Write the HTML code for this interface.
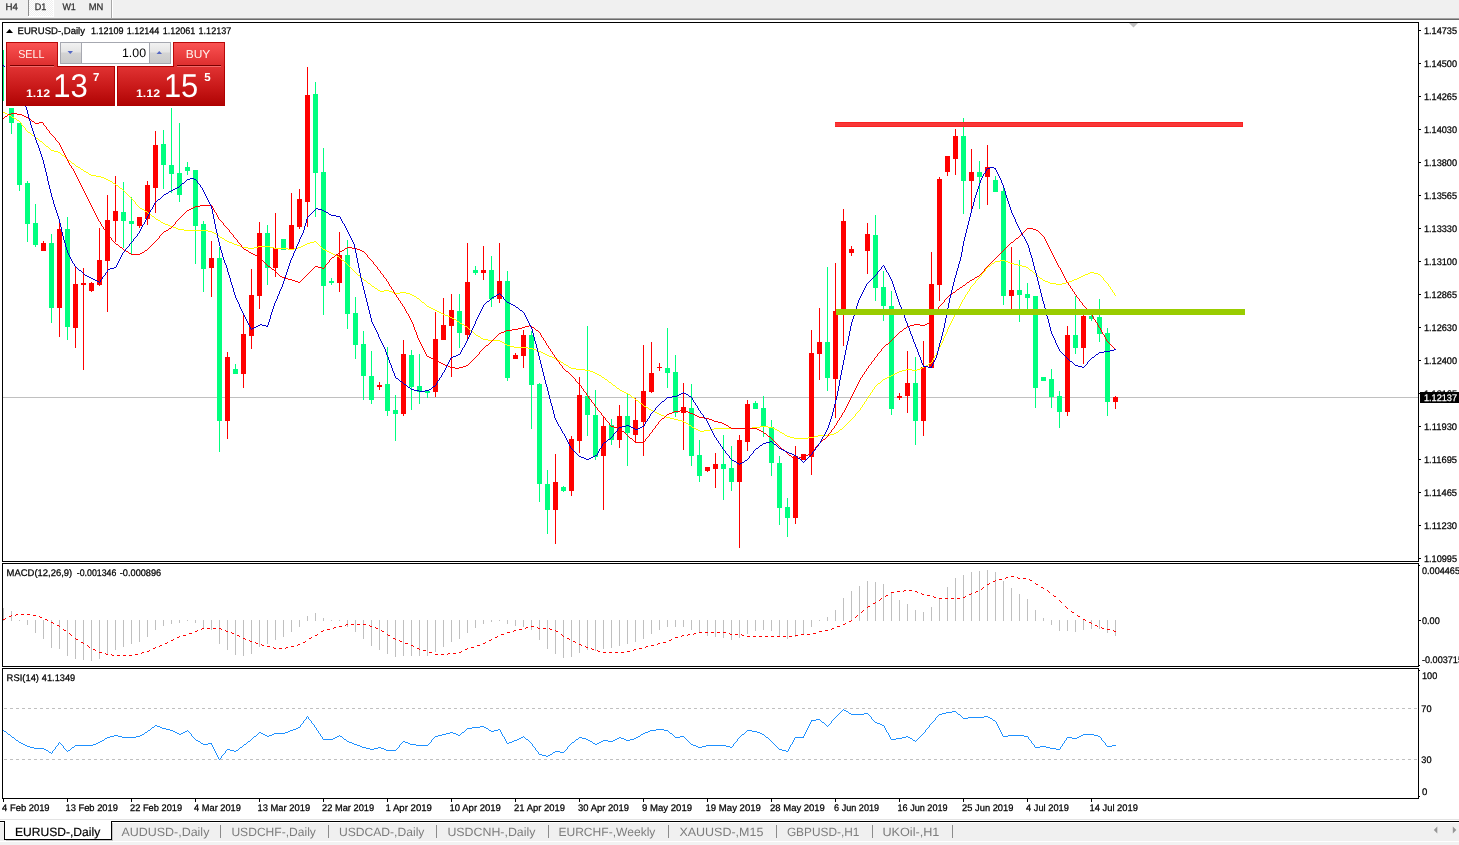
<!DOCTYPE html>
<html lang="en"><head><meta charset="utf-8"><title>EURUSD-,Daily</title>
<style>html,body{margin:0;padding:0;background:#fff}body{width:1459px;height:845px;overflow:hidden;font-family:"Liberation Sans",sans-serif}svg{display:block}</style>
</head><body>
<svg width="1459" height="845" viewBox="0 0 1459 845" font-family="Liberation Sans, sans-serif" style="text-rendering:geometricPrecision">
<defs>
<linearGradient id="gsell" x1="0" y1="0" x2="0" y2="1"><stop offset="0" stop-color="#fa5252"/><stop offset="1" stop-color="#dc2c2c"/></linearGradient>
<linearGradient id="gprice" x1="0" y1="0" x2="0" y2="1"><stop offset="0" stop-color="#e03232"/><stop offset="0.55" stop-color="#c81818"/><stop offset="1" stop-color="#b00404"/></linearGradient>
<linearGradient id="gbtn" x1="0" y1="0" x2="0" y2="1"><stop offset="0" stop-color="#f2f2f2"/><stop offset="0.45" stop-color="#e4e4e4"/><stop offset="0.5" stop-color="#d4d4d4"/><stop offset="1" stop-color="#cacaca"/></linearGradient>
<pattern id="dith" width="2" height="2" patternUnits="userSpaceOnUse"><rect width="2" height="2" fill="#f0f0f0"/><rect width="1" height="1" fill="#fff"/><rect x="1" y="1" width="1" height="1" fill="#fff"/></pattern>
<clipPath id="cmain"><rect x="3" y="23" width="1415" height="538"/></clipPath>
</defs>
<rect x="0" y="0" width="1459" height="845" fill="#ffffff" />
<g shape-rendering="crispEdges">
<rect x="0" y="0" width="1459" height="18" fill="#f0f0f0" />
<rect x="0" y="18" width="1459" height="1" fill="#a2a2a2" />
<rect x="0" y="19" width="1459" height="1" fill="#696969" />
<rect x="29" y="0" width="24" height="16" fill="url(#dith)" />
<rect x="28" y="0" width="1" height="16" fill="#8e8e8e" />
<rect x="53" y="0" width="1" height="17" fill="#ffffff" />
<rect x="28" y="16" width="26" height="1" fill="#ffffff" />
<rect x="111" y="0" width="1" height="18" fill="#a8a8a8" />
<rect x="112" y="0" width="1" height="18" fill="#ffffff" />
</g>
<text x="5.6" y="10.2" font-size="9.6" fill="#303030" textLength="12.4" lengthAdjust="spacingAndGlyphs" stroke="#303030" stroke-width="0.25"  xml:space="preserve">H4</text>
<text x="34.7" y="10.2" font-size="9.6" fill="#303030" textLength="11.6" lengthAdjust="spacingAndGlyphs" stroke="#303030" stroke-width="0.25"  xml:space="preserve">D1</text>
<text x="62.4" y="10.2" font-size="9.6" fill="#303030" textLength="13.4" lengthAdjust="spacingAndGlyphs" stroke="#303030" stroke-width="0.25"  xml:space="preserve">W1</text>
<text x="88.7" y="10.2" font-size="9.6" fill="#303030" textLength="14.6" lengthAdjust="spacingAndGlyphs" stroke="#303030" stroke-width="0.25"  xml:space="preserve">MN</text>
<g shape-rendering="crispEdges">
<rect x="2" y="22" width="1417" height="1" fill="#000" />
<rect x="2" y="22" width="1" height="540" fill="#000" />
<rect x="1418" y="22" width="1" height="540" fill="#000" />
<rect x="2" y="561" width="1417" height="1" fill="#000" />
<rect x="2" y="563" width="1417" height="1" fill="#000" />
<rect x="2" y="563" width="1" height="104" fill="#000" />
<rect x="1418" y="563" width="1" height="104" fill="#000" />
<rect x="2" y="666" width="1417" height="1" fill="#000" />
<rect x="2" y="668" width="1417" height="1" fill="#000" />
<rect x="2" y="668" width="1" height="131" fill="#000" />
<rect x="1418" y="668" width="1" height="131" fill="#000" />
<rect x="2" y="798" width="1417" height="1" fill="#000" />
<rect x="3" y="397" width="1415" height="1" fill="#c0c0c0" />
<polygon points="1129,23 1138,23 1133.5,27.5" fill="#c0c0c0" shape-rendering="auto"/>
<rect x="1419" y="30" width="2" height="1" fill="#000" />
<rect x="1419" y="63" width="2" height="1" fill="#000" />
<rect x="1419" y="96" width="2" height="1" fill="#000" />
<rect x="1419" y="129" width="2" height="1" fill="#000" />
<rect x="1419" y="162" width="2" height="1" fill="#000" />
<rect x="1419" y="195" width="2" height="1" fill="#000" />
<rect x="1419" y="228" width="2" height="1" fill="#000" />
<rect x="1419" y="261" width="2" height="1" fill="#000" />
<rect x="1419" y="294" width="2" height="1" fill="#000" />
<rect x="1419" y="327" width="2" height="1" fill="#000" />
<rect x="1419" y="360" width="2" height="1" fill="#000" />
<rect x="1419" y="393" width="2" height="1" fill="#000" />
<rect x="1419" y="426" width="2" height="1" fill="#000" />
<rect x="1419" y="459" width="2" height="1" fill="#000" />
<rect x="1419" y="492" width="2" height="1" fill="#000" />
<rect x="1419" y="525" width="2" height="1" fill="#000" />
<rect x="1419" y="558" width="2" height="1" fill="#000" />
<rect x="1419" y="565" width="1" height="1" fill="#000" />
<rect x="1419" y="620" width="2" height="1" fill="#000" />
<rect x="1419" y="665" width="1" height="1" fill="#000" />
<rect x="1419" y="670" width="1" height="1" fill="#000" />
<rect x="1419" y="796" width="1" height="1" fill="#000" />
<g clip-path="url(#cmain)">
<rect x="3" y="50" width="1" height="51" fill="#00ff7f" />
<rect x="11" y="108" width="1" height="26" fill="#00ff7f" />
<rect x="9" y="108" width="5" height="15" fill="#00ff7f" />
<rect x="19" y="123" width="1" height="68" fill="#00ff7f" />
<rect x="17" y="123" width="5" height="62" fill="#00ff7f" />
<rect x="27" y="181" width="1" height="61" fill="#00ff7f" />
<rect x="25" y="183" width="5" height="41" fill="#00ff7f" />
<rect x="35" y="204" width="1" height="43" fill="#00ff7f" />
<rect x="33" y="223" width="5" height="22" fill="#00ff7f" />
<rect x="43" y="241" width="1" height="10" fill="#ff0000" />
<rect x="41" y="243" width="5" height="8" fill="#ff0000" />
<rect x="51" y="234" width="1" height="89" fill="#00ff7f" />
<rect x="49" y="243" width="5" height="65" fill="#00ff7f" />
<rect x="59" y="220" width="1" height="117" fill="#ff0000" />
<rect x="57" y="229" width="5" height="79" fill="#ff0000" />
<rect x="67" y="217" width="1" height="123" fill="#00ff7f" />
<rect x="65" y="229" width="5" height="98" fill="#00ff7f" />
<rect x="75" y="266" width="1" height="82" fill="#ff0000" />
<rect x="73" y="284" width="5" height="44" fill="#ff0000" />
<rect x="83" y="268" width="1" height="102" fill="#ff0000" />
<rect x="81" y="283" width="5" height="2" fill="#ff0000" />
<rect x="91" y="282" width="1" height="10" fill="#ff0000" />
<rect x="89" y="283" width="5" height="8" fill="#ff0000" />
<rect x="99" y="228" width="1" height="58" fill="#ff0000" />
<rect x="97" y="260" width="5" height="25" fill="#ff0000" />
<rect x="107" y="195" width="1" height="117" fill="#ff0000" />
<rect x="105" y="220" width="5" height="41" fill="#ff0000" />
<rect x="115" y="176" width="1" height="66" fill="#ff0000" />
<rect x="113" y="211" width="5" height="10" fill="#ff0000" />
<rect x="123" y="182" width="1" height="66" fill="#00ff7f" />
<rect x="121" y="212" width="5" height="9" fill="#00ff7f" />
<rect x="131" y="197" width="1" height="57" fill="#00ff7f" />
<rect x="129" y="221" width="5" height="3" fill="#00ff7f" />
<rect x="139" y="217" width="1" height="11" fill="#ff0000" />
<rect x="137" y="217" width="5" height="9" fill="#ff0000" />
<rect x="147" y="181" width="1" height="44" fill="#ff0000" />
<rect x="145" y="185" width="5" height="34" fill="#ff0000" />
<rect x="155" y="131" width="1" height="82" fill="#ff0000" />
<rect x="153" y="145" width="5" height="43" fill="#ff0000" />
<rect x="163" y="130" width="1" height="59" fill="#00ff7f" />
<rect x="161" y="144" width="5" height="21" fill="#00ff7f" />
<rect x="171" y="108" width="1" height="85" fill="#00ff7f" />
<rect x="169" y="165" width="5" height="9" fill="#00ff7f" />
<rect x="179" y="123" width="1" height="79" fill="#00ff7f" />
<rect x="177" y="173" width="5" height="22" fill="#00ff7f" />
<rect x="187" y="162" width="1" height="13" fill="#00ff7f" />
<rect x="185" y="167" width="5" height="4" fill="#00ff7f" />
<rect x="195" y="170" width="1" height="94" fill="#00ff7f" />
<rect x="193" y="170" width="5" height="56" fill="#00ff7f" />
<rect x="203" y="221" width="1" height="71" fill="#00ff7f" />
<rect x="201" y="224" width="5" height="45" fill="#00ff7f" />
<rect x="211" y="241" width="1" height="56" fill="#ff0000" />
<rect x="209" y="258" width="5" height="10" fill="#ff0000" />
<rect x="219" y="247" width="1" height="205" fill="#00ff7f" />
<rect x="217" y="258" width="5" height="163" fill="#00ff7f" />
<rect x="227" y="352" width="1" height="87" fill="#ff0000" />
<rect x="225" y="357" width="5" height="64" fill="#ff0000" />
<rect x="235" y="364" width="1" height="10" fill="#00ff7f" />
<rect x="233" y="369" width="5" height="5" fill="#00ff7f" />
<rect x="243" y="314" width="1" height="74" fill="#ff0000" />
<rect x="241" y="334" width="5" height="40" fill="#ff0000" />
<rect x="251" y="269" width="1" height="80" fill="#ff0000" />
<rect x="249" y="295" width="5" height="41" fill="#ff0000" />
<rect x="259" y="222" width="1" height="87" fill="#ff0000" />
<rect x="257" y="233" width="5" height="63" fill="#ff0000" />
<rect x="267" y="225" width="1" height="60" fill="#00ff7f" />
<rect x="265" y="233" width="5" height="35" fill="#00ff7f" />
<rect x="275" y="213" width="1" height="64" fill="#ff0000" />
<rect x="273" y="248" width="5" height="20" fill="#ff0000" />
<rect x="283" y="239" width="1" height="11" fill="#00ff7f" />
<rect x="281" y="239" width="5" height="11" fill="#00ff7f" />
<rect x="291" y="193" width="1" height="57" fill="#ff0000" />
<rect x="289" y="225" width="5" height="25" fill="#ff0000" />
<rect x="299" y="189" width="1" height="40" fill="#ff0000" />
<rect x="297" y="199" width="5" height="28" fill="#ff0000" />
<rect x="307" y="67" width="1" height="160" fill="#ff0000" />
<rect x="305" y="95" width="5" height="107" fill="#ff0000" />
<rect x="315" y="82" width="1" height="135" fill="#00ff7f" />
<rect x="313" y="94" width="5" height="79" fill="#00ff7f" />
<rect x="323" y="148" width="1" height="167" fill="#00ff7f" />
<rect x="321" y="172" width="5" height="114" fill="#00ff7f" />
<rect x="331" y="278" width="1" height="7" fill="#00ff7f" />
<rect x="329" y="281" width="5" height="2" fill="#00ff7f" />
<rect x="339" y="232" width="1" height="60" fill="#ff0000" />
<rect x="337" y="255" width="5" height="28" fill="#ff0000" />
<rect x="347" y="240" width="1" height="89" fill="#00ff7f" />
<rect x="345" y="255" width="5" height="59" fill="#00ff7f" />
<rect x="355" y="297" width="1" height="62" fill="#00ff7f" />
<rect x="353" y="313" width="5" height="32" fill="#00ff7f" />
<rect x="363" y="331" width="1" height="69" fill="#00ff7f" />
<rect x="361" y="344" width="5" height="32" fill="#00ff7f" />
<rect x="371" y="351" width="1" height="53" fill="#00ff7f" />
<rect x="369" y="376" width="5" height="24" fill="#00ff7f" />
<rect x="379" y="382" width="1" height="8" fill="#ff0000" />
<rect x="377" y="385" width="5" height="2" fill="#ff0000" />
<rect x="387" y="347" width="1" height="69" fill="#00ff7f" />
<rect x="385" y="384" width="5" height="27" fill="#00ff7f" />
<rect x="395" y="395" width="1" height="46" fill="#00ff7f" />
<rect x="393" y="410" width="5" height="4" fill="#00ff7f" />
<rect x="403" y="340" width="1" height="76" fill="#ff0000" />
<rect x="401" y="354" width="5" height="60" fill="#ff0000" />
<rect x="411" y="350" width="1" height="60" fill="#00ff7f" />
<rect x="409" y="355" width="5" height="32" fill="#00ff7f" />
<rect x="419" y="354" width="1" height="50" fill="#00ff7f" />
<rect x="417" y="386" width="5" height="6" fill="#00ff7f" />
<rect x="427" y="391" width="1" height="7" fill="#00ff7f" />
<rect x="425" y="391" width="5" height="2" fill="#00ff7f" />
<rect x="435" y="312" width="1" height="85" fill="#ff0000" />
<rect x="433" y="339" width="5" height="53" fill="#ff0000" />
<rect x="443" y="298" width="1" height="42" fill="#ff0000" />
<rect x="441" y="325" width="5" height="15" fill="#ff0000" />
<rect x="451" y="294" width="1" height="83" fill="#ff0000" />
<rect x="449" y="310" width="5" height="16" fill="#ff0000" />
<rect x="459" y="294" width="1" height="54" fill="#00ff7f" />
<rect x="457" y="311" width="5" height="22" fill="#00ff7f" />
<rect x="467" y="243" width="1" height="96" fill="#ff0000" />
<rect x="465" y="282" width="5" height="53" fill="#ff0000" />
<rect x="475" y="266" width="1" height="9" fill="#00ff7f" />
<rect x="473" y="270" width="5" height="3" fill="#00ff7f" />
<rect x="483" y="246" width="1" height="34" fill="#ff0000" />
<rect x="481" y="270" width="5" height="3" fill="#ff0000" />
<rect x="491" y="256" width="1" height="51" fill="#00ff7f" />
<rect x="489" y="270" width="5" height="29" fill="#00ff7f" />
<rect x="499" y="243" width="1" height="60" fill="#ff0000" />
<rect x="497" y="281" width="5" height="18" fill="#ff0000" />
<rect x="507" y="271" width="1" height="110" fill="#00ff7f" />
<rect x="505" y="281" width="5" height="97" fill="#00ff7f" />
<rect x="515" y="353" width="1" height="6" fill="#ff0000" />
<rect x="513" y="355" width="5" height="4" fill="#ff0000" />
<rect x="523" y="330" width="1" height="38" fill="#ff0000" />
<rect x="521" y="335" width="5" height="21" fill="#ff0000" />
<rect x="531" y="331" width="1" height="98" fill="#00ff7f" />
<rect x="529" y="335" width="5" height="50" fill="#00ff7f" />
<rect x="539" y="383" width="1" height="119" fill="#00ff7f" />
<rect x="537" y="384" width="5" height="100" fill="#00ff7f" />
<rect x="547" y="470" width="1" height="64" fill="#00ff7f" />
<rect x="545" y="484" width="5" height="26" fill="#00ff7f" />
<rect x="555" y="454" width="1" height="90" fill="#ff0000" />
<rect x="553" y="482" width="5" height="28" fill="#ff0000" />
<rect x="563" y="486" width="1" height="6" fill="#00ff7f" />
<rect x="561" y="487" width="5" height="4" fill="#00ff7f" />
<rect x="571" y="436" width="1" height="60" fill="#ff0000" />
<rect x="569" y="439" width="5" height="52" fill="#ff0000" />
<rect x="579" y="377" width="1" height="76" fill="#ff0000" />
<rect x="577" y="395" width="5" height="46" fill="#ff0000" />
<rect x="587" y="326" width="1" height="110" fill="#00ff7f" />
<rect x="585" y="396" width="5" height="19" fill="#00ff7f" />
<rect x="595" y="390" width="1" height="70" fill="#00ff7f" />
<rect x="593" y="415" width="5" height="42" fill="#00ff7f" />
<rect x="603" y="416" width="1" height="94" fill="#ff0000" />
<rect x="601" y="426" width="5" height="30" fill="#ff0000" />
<rect x="611" y="419" width="1" height="26" fill="#00ff7f" />
<rect x="609" y="425" width="5" height="15" fill="#00ff7f" />
<rect x="619" y="405" width="1" height="43" fill="#ff0000" />
<rect x="617" y="416" width="5" height="24" fill="#ff0000" />
<rect x="627" y="393" width="1" height="73" fill="#00ff7f" />
<rect x="625" y="416" width="5" height="17" fill="#00ff7f" />
<rect x="635" y="398" width="1" height="44" fill="#ff0000" />
<rect x="633" y="420" width="5" height="15" fill="#ff0000" />
<rect x="643" y="345" width="1" height="111" fill="#ff0000" />
<rect x="641" y="391" width="5" height="31" fill="#ff0000" />
<rect x="651" y="342" width="1" height="51" fill="#ff0000" />
<rect x="649" y="373" width="5" height="19" fill="#ff0000" />
<rect x="659" y="363" width="1" height="8" fill="#ff0000" />
<rect x="657" y="367" width="5" height="1" fill="#ff0000" />
<rect x="667" y="328" width="1" height="60" fill="#00ff7f" />
<rect x="665" y="368" width="5" height="5" fill="#00ff7f" />
<rect x="675" y="355" width="1" height="62" fill="#00ff7f" />
<rect x="673" y="372" width="5" height="41" fill="#00ff7f" />
<rect x="683" y="383" width="1" height="67" fill="#ff0000" />
<rect x="681" y="407" width="5" height="6" fill="#ff0000" />
<rect x="691" y="384" width="1" height="82" fill="#00ff7f" />
<rect x="689" y="408" width="5" height="48" fill="#00ff7f" />
<rect x="699" y="440" width="1" height="42" fill="#00ff7f" />
<rect x="697" y="455" width="5" height="21" fill="#00ff7f" />
<rect x="707" y="467" width="1" height="5" fill="#ff0000" />
<rect x="705" y="467" width="5" height="4" fill="#ff0000" />
<rect x="715" y="453" width="1" height="35" fill="#ff0000" />
<rect x="713" y="464" width="5" height="5" fill="#ff0000" />
<rect x="723" y="435" width="1" height="65" fill="#00ff7f" />
<rect x="721" y="464" width="5" height="5" fill="#00ff7f" />
<rect x="731" y="446" width="1" height="45" fill="#00ff7f" />
<rect x="729" y="468" width="5" height="14" fill="#00ff7f" />
<rect x="739" y="435" width="1" height="113" fill="#ff0000" />
<rect x="737" y="440" width="5" height="42" fill="#ff0000" />
<rect x="747" y="400" width="1" height="51" fill="#ff0000" />
<rect x="745" y="404" width="5" height="38" fill="#ff0000" />
<rect x="755" y="401" width="1" height="8" fill="#00ff7f" />
<rect x="753" y="403" width="5" height="6" fill="#00ff7f" />
<rect x="763" y="396" width="1" height="41" fill="#00ff7f" />
<rect x="761" y="408" width="5" height="19" fill="#00ff7f" />
<rect x="771" y="420" width="1" height="56" fill="#00ff7f" />
<rect x="769" y="427" width="5" height="36" fill="#00ff7f" />
<rect x="779" y="456" width="1" height="69" fill="#00ff7f" />
<rect x="777" y="463" width="5" height="45" fill="#00ff7f" />
<rect x="787" y="498" width="1" height="39" fill="#00ff7f" />
<rect x="785" y="507" width="5" height="11" fill="#00ff7f" />
<rect x="795" y="446" width="1" height="78" fill="#ff0000" />
<rect x="793" y="456" width="5" height="62" fill="#ff0000" />
<rect x="803" y="454" width="1" height="6" fill="#ff0000" />
<rect x="801" y="454" width="5" height="6" fill="#ff0000" />
<rect x="811" y="330" width="1" height="145" fill="#ff0000" />
<rect x="809" y="353" width="5" height="104" fill="#ff0000" />
<rect x="819" y="308" width="1" height="72" fill="#ff0000" />
<rect x="817" y="342" width="5" height="12" fill="#ff0000" />
<rect x="827" y="267" width="1" height="124" fill="#00ff7f" />
<rect x="825" y="342" width="5" height="36" fill="#00ff7f" />
<rect x="835" y="263" width="1" height="155" fill="#ff0000" />
<rect x="833" y="311" width="5" height="68" fill="#ff0000" />
<rect x="843" y="209" width="1" height="137" fill="#ff0000" />
<rect x="841" y="221" width="5" height="90" fill="#ff0000" />
<rect x="851" y="246" width="1" height="10" fill="#ff0000" />
<rect x="849" y="249" width="5" height="4" fill="#ff0000" />
<rect x="867" y="223" width="1" height="51" fill="#ff0000" />
<rect x="865" y="234" width="5" height="17" fill="#ff0000" />
<rect x="875" y="215" width="1" height="86" fill="#00ff7f" />
<rect x="873" y="235" width="5" height="53" fill="#00ff7f" />
<rect x="883" y="271" width="1" height="50" fill="#00ff7f" />
<rect x="881" y="287" width="5" height="19" fill="#00ff7f" />
<rect x="891" y="291" width="1" height="124" fill="#00ff7f" />
<rect x="889" y="306" width="5" height="103" fill="#00ff7f" />
<rect x="899" y="393" width="1" height="7" fill="#ff0000" />
<rect x="897" y="396" width="5" height="2" fill="#ff0000" />
<rect x="907" y="351" width="1" height="62" fill="#ff0000" />
<rect x="905" y="383" width="5" height="13" fill="#ff0000" />
<rect x="915" y="357" width="1" height="88" fill="#00ff7f" />
<rect x="913" y="383" width="5" height="38" fill="#00ff7f" />
<rect x="923" y="341" width="1" height="95" fill="#ff0000" />
<rect x="921" y="367" width="5" height="54" fill="#ff0000" />
<rect x="931" y="252" width="1" height="116" fill="#ff0000" />
<rect x="929" y="284" width="5" height="84" fill="#ff0000" />
<rect x="939" y="177" width="1" height="124" fill="#ff0000" />
<rect x="937" y="179" width="5" height="106" fill="#ff0000" />
<rect x="947" y="156" width="1" height="20" fill="#ff0000" />
<rect x="945" y="156" width="5" height="16" fill="#ff0000" />
<rect x="955" y="129" width="1" height="46" fill="#ff0000" />
<rect x="953" y="136" width="5" height="23" fill="#ff0000" />
<rect x="963" y="118" width="1" height="96" fill="#00ff7f" />
<rect x="961" y="136" width="5" height="45" fill="#00ff7f" />
<rect x="971" y="149" width="1" height="60" fill="#ff0000" />
<rect x="969" y="172" width="5" height="9" fill="#ff0000" />
<rect x="979" y="161" width="1" height="48" fill="#00ff7f" />
<rect x="977" y="172" width="5" height="5" fill="#00ff7f" />
<rect x="987" y="145" width="1" height="60" fill="#ff0000" />
<rect x="985" y="167" width="5" height="10" fill="#ff0000" />
<rect x="995" y="176" width="1" height="16" fill="#00ff7f" />
<rect x="993" y="180" width="5" height="12" fill="#00ff7f" />
<rect x="1003" y="186" width="1" height="119" fill="#00ff7f" />
<rect x="1001" y="191" width="5" height="105" fill="#00ff7f" />
<rect x="1011" y="247" width="1" height="66" fill="#ff0000" />
<rect x="1009" y="290" width="5" height="6" fill="#ff0000" />
<rect x="1019" y="260" width="1" height="62" fill="#00ff7f" />
<rect x="1017" y="290" width="5" height="5" fill="#00ff7f" />
<rect x="1027" y="283" width="1" height="30" fill="#00ff7f" />
<rect x="1025" y="294" width="5" height="4" fill="#00ff7f" />
<rect x="1035" y="296" width="1" height="112" fill="#00ff7f" />
<rect x="1033" y="296" width="5" height="92" fill="#00ff7f" />
<rect x="1043" y="377" width="1" height="4" fill="#00ff7f" />
<rect x="1041" y="377" width="5" height="4" fill="#00ff7f" />
<rect x="1051" y="369" width="1" height="39" fill="#00ff7f" />
<rect x="1049" y="379" width="5" height="18" fill="#00ff7f" />
<rect x="1059" y="391" width="1" height="37" fill="#00ff7f" />
<rect x="1057" y="396" width="5" height="16" fill="#00ff7f" />
<rect x="1067" y="326" width="1" height="90" fill="#ff0000" />
<rect x="1065" y="335" width="5" height="77" fill="#ff0000" />
<rect x="1075" y="296" width="1" height="58" fill="#00ff7f" />
<rect x="1073" y="335" width="5" height="13" fill="#00ff7f" />
<rect x="1083" y="310" width="1" height="54" fill="#ff0000" />
<rect x="1081" y="316" width="5" height="32" fill="#ff0000" />
<rect x="1091" y="312" width="1" height="9" fill="#00ff7f" />
<rect x="1089" y="316" width="5" height="3" fill="#00ff7f" />
<rect x="1099" y="299" width="1" height="43" fill="#00ff7f" />
<rect x="1097" y="317" width="5" height="17" fill="#00ff7f" />
<rect x="1107" y="328" width="1" height="88" fill="#00ff7f" />
<rect x="1105" y="333" width="5" height="69" fill="#00ff7f" />
<rect x="1115" y="396" width="1" height="13" fill="#ff0000" />
<rect x="1113" y="397" width="5" height="5" fill="#ff0000" />
</g>
<rect x="3" y="608" width="1" height="13" fill="#c0c0c0" />
<rect x="11" y="611" width="1" height="10" fill="#c0c0c0" />
<rect x="19" y="620" width="1" height="1" fill="#c0c0c0" />
<rect x="27" y="620" width="1" height="5" fill="#c0c0c0" />
<rect x="35" y="620" width="1" height="13" fill="#c0c0c0" />
<rect x="43" y="620" width="1" height="19" fill="#c0c0c0" />
<rect x="51" y="620" width="1" height="28" fill="#c0c0c0" />
<rect x="59" y="620" width="1" height="29" fill="#c0c0c0" />
<rect x="67" y="620" width="1" height="36" fill="#c0c0c0" />
<rect x="75" y="620" width="1" height="39" fill="#c0c0c0" />
<rect x="83" y="620" width="1" height="40" fill="#c0c0c0" />
<rect x="91" y="620" width="1" height="41" fill="#c0c0c0" />
<rect x="99" y="620" width="1" height="39" fill="#c0c0c0" />
<rect x="107" y="620" width="1" height="34" fill="#c0c0c0" />
<rect x="115" y="620" width="1" height="30" fill="#c0c0c0" />
<rect x="123" y="620" width="1" height="27" fill="#c0c0c0" />
<rect x="131" y="620" width="1" height="24" fill="#c0c0c0" />
<rect x="139" y="620" width="1" height="22" fill="#c0c0c0" />
<rect x="147" y="620" width="1" height="17" fill="#c0c0c0" />
<rect x="155" y="620" width="1" height="10" fill="#c0c0c0" />
<rect x="163" y="620" width="1" height="6" fill="#c0c0c0" />
<rect x="171" y="620" width="1" height="4" fill="#c0c0c0" />
<rect x="179" y="620" width="1" height="3" fill="#c0c0c0" />
<rect x="187" y="620" width="1" height="1" fill="#c0c0c0" />
<rect x="195" y="620" width="1" height="3" fill="#c0c0c0" />
<rect x="203" y="620" width="1" height="8" fill="#c0c0c0" />
<rect x="211" y="620" width="1" height="10" fill="#c0c0c0" />
<rect x="219" y="620" width="1" height="24" fill="#c0c0c0" />
<rect x="227" y="620" width="1" height="30" fill="#c0c0c0" />
<rect x="235" y="620" width="1" height="35" fill="#c0c0c0" />
<rect x="243" y="620" width="1" height="36" fill="#c0c0c0" />
<rect x="251" y="620" width="1" height="34" fill="#c0c0c0" />
<rect x="259" y="620" width="1" height="27" fill="#c0c0c0" />
<rect x="267" y="620" width="1" height="24" fill="#c0c0c0" />
<rect x="275" y="620" width="1" height="20" fill="#c0c0c0" />
<rect x="283" y="620" width="1" height="17" fill="#c0c0c0" />
<rect x="291" y="620" width="1" height="12" fill="#c0c0c0" />
<rect x="299" y="620" width="1" height="7" fill="#c0c0c0" />
<rect x="307" y="616" width="1" height="5" fill="#c0c0c0" />
<rect x="315" y="613" width="1" height="8" fill="#c0c0c0" />
<rect x="323" y="618" width="1" height="3" fill="#c0c0c0" />
<rect x="331" y="620" width="1" height="1" fill="#c0c0c0" />
<rect x="339" y="620" width="1" height="1" fill="#c0c0c0" />
<rect x="347" y="620" width="1" height="7" fill="#c0c0c0" />
<rect x="355" y="620" width="1" height="12" fill="#c0c0c0" />
<rect x="363" y="620" width="1" height="19" fill="#c0c0c0" />
<rect x="371" y="620" width="1" height="26" fill="#c0c0c0" />
<rect x="379" y="620" width="1" height="30" fill="#c0c0c0" />
<rect x="387" y="620" width="1" height="34" fill="#c0c0c0" />
<rect x="395" y="620" width="1" height="37" fill="#c0c0c0" />
<rect x="403" y="620" width="1" height="36" fill="#c0c0c0" />
<rect x="411" y="620" width="1" height="36" fill="#c0c0c0" />
<rect x="419" y="620" width="1" height="36" fill="#c0c0c0" />
<rect x="427" y="620" width="1" height="36" fill="#c0c0c0" />
<rect x="435" y="620" width="1" height="32" fill="#c0c0c0" />
<rect x="443" y="620" width="1" height="27" fill="#c0c0c0" />
<rect x="451" y="620" width="1" height="22" fill="#c0c0c0" />
<rect x="459" y="620" width="1" height="19" fill="#c0c0c0" />
<rect x="467" y="620" width="1" height="13" fill="#c0c0c0" />
<rect x="475" y="620" width="1" height="8" fill="#c0c0c0" />
<rect x="483" y="620" width="1" height="4" fill="#c0c0c0" />
<rect x="491" y="620" width="1" height="2" fill="#c0c0c0" />
<rect x="499" y="620" width="1" height="1" fill="#c0c0c0" />
<rect x="507" y="620" width="1" height="4" fill="#c0c0c0" />
<rect x="515" y="620" width="1" height="6" fill="#c0c0c0" />
<rect x="523" y="620" width="1" height="7" fill="#c0c0c0" />
<rect x="531" y="620" width="1" height="10" fill="#c0c0c0" />
<rect x="539" y="620" width="1" height="20" fill="#c0c0c0" />
<rect x="547" y="620" width="1" height="29" fill="#c0c0c0" />
<rect x="555" y="620" width="1" height="34" fill="#c0c0c0" />
<rect x="563" y="620" width="1" height="38" fill="#c0c0c0" />
<rect x="571" y="620" width="1" height="37" fill="#c0c0c0" />
<rect x="579" y="620" width="1" height="33" fill="#c0c0c0" />
<rect x="587" y="620" width="1" height="30" fill="#c0c0c0" />
<rect x="595" y="620" width="1" height="31" fill="#c0c0c0" />
<rect x="603" y="620" width="1" height="29" fill="#c0c0c0" />
<rect x="611" y="620" width="1" height="28" fill="#c0c0c0" />
<rect x="619" y="620" width="1" height="26" fill="#c0c0c0" />
<rect x="627" y="620" width="1" height="24" fill="#c0c0c0" />
<rect x="635" y="620" width="1" height="22" fill="#c0c0c0" />
<rect x="643" y="620" width="1" height="19" fill="#c0c0c0" />
<rect x="651" y="620" width="1" height="14" fill="#c0c0c0" />
<rect x="659" y="620" width="1" height="10" fill="#c0c0c0" />
<rect x="667" y="620" width="1" height="7" fill="#c0c0c0" />
<rect x="675" y="620" width="1" height="7" fill="#c0c0c0" />
<rect x="683" y="620" width="1" height="7" fill="#c0c0c0" />
<rect x="691" y="620" width="1" height="10" fill="#c0c0c0" />
<rect x="699" y="620" width="1" height="13" fill="#c0c0c0" />
<rect x="707" y="620" width="1" height="16" fill="#c0c0c0" />
<rect x="715" y="620" width="1" height="17" fill="#c0c0c0" />
<rect x="723" y="620" width="1" height="18" fill="#c0c0c0" />
<rect x="731" y="620" width="1" height="20" fill="#c0c0c0" />
<rect x="739" y="620" width="1" height="18" fill="#c0c0c0" />
<rect x="747" y="620" width="1" height="14" fill="#c0c0c0" />
<rect x="755" y="620" width="1" height="11" fill="#c0c0c0" />
<rect x="763" y="620" width="1" height="10" fill="#c0c0c0" />
<rect x="771" y="620" width="1" height="11" fill="#c0c0c0" />
<rect x="779" y="620" width="1" height="16" fill="#c0c0c0" />
<rect x="787" y="620" width="1" height="19" fill="#c0c0c0" />
<rect x="795" y="620" width="1" height="17" fill="#c0c0c0" />
<rect x="803" y="620" width="1" height="14" fill="#c0c0c0" />
<rect x="811" y="620" width="1" height="7" fill="#c0c0c0" />
<rect x="819" y="620" width="1" height="1" fill="#c0c0c0" />
<rect x="827" y="617" width="1" height="4" fill="#c0c0c0" />
<rect x="835" y="610" width="1" height="11" fill="#c0c0c0" />
<rect x="843" y="598" width="1" height="23" fill="#c0c0c0" />
<rect x="851" y="591" width="1" height="30" fill="#c0c0c0" />
<rect x="859" y="586" width="1" height="35" fill="#c0c0c0" />
<rect x="867" y="581" width="1" height="40" fill="#c0c0c0" />
<rect x="875" y="582" width="1" height="39" fill="#c0c0c0" />
<rect x="883" y="584" width="1" height="37" fill="#c0c0c0" />
<rect x="891" y="593" width="1" height="28" fill="#c0c0c0" />
<rect x="899" y="600" width="1" height="21" fill="#c0c0c0" />
<rect x="907" y="604" width="1" height="17" fill="#c0c0c0" />
<rect x="915" y="610" width="1" height="11" fill="#c0c0c0" />
<rect x="923" y="612" width="1" height="9" fill="#c0c0c0" />
<rect x="931" y="607" width="1" height="14" fill="#c0c0c0" />
<rect x="939" y="599" width="1" height="22" fill="#c0c0c0" />
<rect x="947" y="587" width="1" height="34" fill="#c0c0c0" />
<rect x="955" y="578" width="1" height="43" fill="#c0c0c0" />
<rect x="963" y="575" width="1" height="46" fill="#c0c0c0" />
<rect x="971" y="572" width="1" height="49" fill="#c0c0c0" />
<rect x="979" y="571" width="1" height="50" fill="#c0c0c0" />
<rect x="987" y="570" width="1" height="51" fill="#c0c0c0" />
<rect x="995" y="572" width="1" height="49" fill="#c0c0c0" />
<rect x="1003" y="581" width="1" height="40" fill="#c0c0c0" />
<rect x="1011" y="588" width="1" height="33" fill="#c0c0c0" />
<rect x="1019" y="594" width="1" height="27" fill="#c0c0c0" />
<rect x="1027" y="599" width="1" height="22" fill="#c0c0c0" />
<rect x="1035" y="610" width="1" height="11" fill="#c0c0c0" />
<rect x="1043" y="618" width="1" height="3" fill="#c0c0c0" />
<rect x="1051" y="620" width="1" height="5" fill="#c0c0c0" />
<rect x="1059" y="620" width="1" height="11" fill="#c0c0c0" />
<rect x="1067" y="620" width="1" height="11" fill="#c0c0c0" />
<rect x="1075" y="620" width="1" height="12" fill="#c0c0c0" />
<rect x="1083" y="620" width="1" height="10" fill="#c0c0c0" />
<rect x="1091" y="620" width="1" height="9" fill="#c0c0c0" />
<rect x="1099" y="620" width="1" height="9" fill="#c0c0c0" />
<rect x="1107" y="620" width="1" height="13" fill="#c0c0c0" />
<rect x="1115" y="620" width="1" height="16" fill="#c0c0c0" />
<path d="M4 708.5H1418M4 759.5H1418" stroke="#c0c0c0" stroke-width="1" stroke-dasharray="3 3" fill="none"/>
</g>
<g clip-path="url(#cmain)">
<path d="M3 112.5h2M5 113.5h2M7 114.5h2M9 115.5h2M11 116.5h1M12 117.5h2M14 118.5h2M16 119.5h1M17 120.5h2M19 121.5h1M20 122.5h1M21 123.5h1M21 124.5h1M22 125.5h1M23 126.5h1M24 127.5h1M25 128.5h1M25 129.5h1M26 130.5h1M27 131.5h1M28 132.5h2M30 133.5h1M31 134.5h1M32 135.5h2M34 136.5h1M35 137.5h1M36 138.5h2M38 139.5h1M39 140.5h1M40 141.5h2M42 142.5h1M43 143.5h1M44 144.5h1M45 145.5h1M46 146.5h2M48 147.5h1M49 148.5h1M50 149.5h1M51 150.5h3M54 151.5h4M58 152.5h2M60 153.5h1M61 154.5h1M62 155.5h2M64 156.5h1M65 157.5h1M66 158.5h1M67 159.5h1M68 160.5h2M70 161.5h1M71 162.5h1M72 163.5h2M74 164.5h1M75 165.5h1M76 166.5h2M78 167.5h2M80 168.5h1M81 169.5h2M83 170.5h1M84 171.5h2M86 172.5h2M88 173.5h1M89 174.5h2M91 175.5h5M96 176.5h5M101 177.5h3M104 178.5h2M106 179.5h2M108 180.5h2M110 181.5h2M112 182.5h1M113 183.5h2M115 184.5h1M116 185.5h2M118 186.5h1M119 187.5h1M120 188.5h2M122 189.5h1M123 190.5h1M124 191.5h1M125 192.5h1M126 193.5h1M127 194.5h1M128 195.5h1M129 196.5h1M130 197.5h1M131 198.5h1M132 199.5h1M133 200.5h1M134 201.5h1M135 202.5h1M135 203.5h1M136 204.5h1M137 205.5h1M138 206.5h1M139 207.5h1M140 208.5h2M142 209.5h2M144 210.5h1M145 211.5h2M147 212.5h1M148 213.5h2M150 214.5h1M151 215.5h1M152 216.5h2M154 217.5h1M155 218.5h1M156 219.5h2M158 220.5h2M160 221.5h1M161 222.5h2M163 223.5h2M165 224.5h3M168 225.5h2M170 226.5h3M173 227.5h3M176 228.5h2M178 229.5h6M184 230.5h24M208 231.5h4M212 232.5h2M214 233.5h2M216 234.5h1M217 235.5h2M219 236.5h1M220 237.5h2M222 238.5h2M224 239.5h1M225 240.5h2M227 241.5h2M314 241.5h2M229 242.5h3M310 242.5h4M316 242.5h1M232 243.5h2M307 243.5h3M317 243.5h1M234 244.5h3M305 244.5h2M318 244.5h1M237 245.5h3M303 245.5h2M319 245.5h1M240 246.5h2M258 246.5h12M301 246.5h2M320 246.5h1M242 247.5h6M254 247.5h4M270 247.5h4M298 247.5h3M321 247.5h1M248 248.5h6M274 248.5h14M294 248.5h4M322 248.5h1M288 249.5h6M323 249.5h2M325 250.5h2M327 251.5h2M329 252.5h2M331 253.5h2M333 254.5h2M335 255.5h2M337 256.5h2M339 257.5h1M340 258.5h1M341 259.5h1M342 260.5h2M1000 260.5h5M344 261.5h1M995 261.5h5M1005 261.5h3M345 262.5h1M994 262.5h1M1008 262.5h2M346 263.5h1M992 263.5h2M1010 263.5h4M347 264.5h1M991 264.5h1M1014 264.5h4M348 265.5h1M990 265.5h1M1018 265.5h4M349 266.5h1M988 266.5h2M1022 266.5h4M350 267.5h1M987 267.5h1M1026 267.5h2M351 268.5h1M986 268.5h1M1028 268.5h1M352 269.5h1M985 269.5h1M1029 269.5h1M353 270.5h1M985 270.5h1M1030 270.5h2M354 271.5h1M984 271.5h1M1032 271.5h1M355 272.5h1M983 272.5h1M1033 272.5h1M1090 272.5h4M356 273.5h1M982 273.5h1M1034 273.5h1M1088 273.5h2M1094 273.5h4M357 274.5h1M981 274.5h1M1035 274.5h1M1085 274.5h3M1098 274.5h2M358 275.5h2M981 275.5h1M1036 275.5h2M1083 275.5h2M1100 275.5h1M360 276.5h1M980 276.5h1M1038 276.5h1M1081 276.5h2M1101 276.5h1M361 277.5h1M979 277.5h1M1039 277.5h1M1079 277.5h2M1102 277.5h1M362 278.5h1M978 278.5h1M1040 278.5h2M1077 278.5h2M1103 278.5h1M363 279.5h1M977 279.5h1M1042 279.5h1M1074 279.5h3M1103 279.5h1M364 280.5h2M976 280.5h1M1043 280.5h2M1072 280.5h2M1104 280.5h1M366 281.5h1M975 281.5h1M1045 281.5h3M1069 281.5h3M1105 281.5h1M367 282.5h1M975 282.5h1M1048 282.5h2M1066 282.5h3M1106 282.5h1M368 283.5h2M974 283.5h1M1050 283.5h6M1062 283.5h4M1107 283.5h1M370 284.5h1M973 284.5h1M1056 284.5h6M1108 284.5h1M371 285.5h1M972 285.5h1M1108 285.5h1M372 286.5h2M971 286.5h1M1109 286.5h1M374 287.5h1M970 287.5h1M1110 287.5h1M375 288.5h2M970 288.5h1M1110 288.5h1M377 289.5h1M969 289.5h1M1111 289.5h1M378 290.5h2M384 290.5h5M969 290.5h1M1112 290.5h1M380 291.5h4M389 291.5h3M968 291.5h1M1112 291.5h1M392 292.5h2M400 292.5h6M967 292.5h1M1113 292.5h1M394 293.5h6M406 293.5h4M967 293.5h1M1114 293.5h1M410 294.5h2M966 294.5h1M1114 294.5h1M412 295.5h2M965 295.5h1M1115 295.5h1M414 296.5h2M965 296.5h1M416 297.5h1M964 297.5h1M417 298.5h2M964 298.5h1M419 299.5h1M963 299.5h1M420 300.5h1M962 300.5h1M421 301.5h1M962 301.5h1M422 302.5h2M961 302.5h1M424 303.5h1M961 303.5h1M425 304.5h1M960 304.5h1M426 305.5h1M960 305.5h1M427 306.5h2M959 306.5h1M429 307.5h2M959 307.5h1M431 308.5h2M958 308.5h1M433 309.5h2M958 309.5h1M435 310.5h2M957 310.5h1M437 311.5h2M957 311.5h1M439 312.5h2M956 312.5h1M441 313.5h2M956 313.5h1M443 314.5h2M955 314.5h1M445 315.5h3M954 315.5h1M448 316.5h2M954 316.5h1M450 317.5h2M953 317.5h1M452 318.5h2M953 318.5h1M454 319.5h2M952 319.5h1M456 320.5h1M952 320.5h1M457 321.5h2M951 321.5h1M459 322.5h1M951 322.5h1M460 323.5h2M950 323.5h1M462 324.5h2M950 324.5h1M464 325.5h1M949 325.5h1M465 326.5h2M949 326.5h1M467 327.5h1M948 327.5h1M468 328.5h1M948 328.5h1M469 329.5h1M947 329.5h1M470 330.5h2M947 330.5h1M472 331.5h1M947 331.5h1M473 332.5h1M946 332.5h1M474 333.5h1M946 333.5h1M475 334.5h1M945 334.5h1M476 335.5h2M945 335.5h1M478 336.5h2M944 336.5h1M480 337.5h1M944 337.5h1M481 338.5h2M943 338.5h1M483 339.5h5M943 339.5h1M488 340.5h12M943 340.5h1M500 341.5h2M942 341.5h1M502 342.5h2M942 342.5h1M504 343.5h1M941 343.5h1M505 344.5h2M941 344.5h1M507 345.5h3M940 345.5h1M510 346.5h4M940 346.5h1M514 347.5h14M939 347.5h1M528 348.5h5M939 348.5h1M533 349.5h3M938 349.5h1M536 350.5h2M938 350.5h1M538 351.5h3M937 351.5h1M541 352.5h2M937 352.5h1M543 353.5h2M936 353.5h1M545 354.5h2M936 354.5h1M547 355.5h2M935 355.5h1M549 356.5h3M934 356.5h1M552 357.5h2M934 357.5h1M554 358.5h2M933 358.5h1M556 359.5h2M933 359.5h1M558 360.5h2M932 360.5h1M560 361.5h1M932 361.5h1M561 362.5h2M931 362.5h1M563 363.5h1M929 363.5h2M564 364.5h2M928 364.5h1M566 365.5h2M926 365.5h2M568 366.5h1M924 366.5h2M569 367.5h2M922 367.5h2M571 368.5h5M920 368.5h2M576 369.5h9M906 369.5h6M917 369.5h3M585 370.5h5M902 370.5h4M912 370.5h5M590 371.5h3M899 371.5h3M593 372.5h2M897 372.5h2M595 373.5h2M895 373.5h2M597 374.5h2M893 374.5h2M599 375.5h2M891 375.5h2M601 376.5h1M889 376.5h2M602 377.5h2M887 377.5h2M604 378.5h1M885 378.5h2M605 379.5h2M883 379.5h2M607 380.5h1M882 380.5h1M608 381.5h1M881 381.5h1M609 382.5h2M880 382.5h1M611 383.5h1M878 383.5h2M612 384.5h1M877 384.5h1M613 385.5h2M876 385.5h1M615 386.5h1M875 386.5h1M616 387.5h1M874 387.5h1M617 388.5h2M874 388.5h1M619 389.5h1M873 389.5h1M620 390.5h2M872 390.5h1M622 391.5h2M872 391.5h1M624 392.5h2M871 392.5h1M626 393.5h2M870 393.5h1M628 394.5h2M870 394.5h1M630 395.5h1M869 395.5h1M631 396.5h1M868 396.5h1M632 397.5h2M868 397.5h1M634 398.5h1M867 398.5h1M635 399.5h1M866 399.5h1M636 400.5h2M866 400.5h1M638 401.5h1M865 401.5h1M639 402.5h1M864 402.5h1M640 403.5h2M864 403.5h1M642 404.5h1M863 404.5h1M643 405.5h1M862 405.5h1M644 406.5h2M862 406.5h1M646 407.5h2M861 407.5h1M648 408.5h1M860 408.5h1M649 409.5h2M860 409.5h1M651 410.5h2M859 410.5h1M653 411.5h2M858 411.5h1M655 412.5h2M857 412.5h1M657 413.5h2M856 413.5h1M659 414.5h2M855 414.5h1M661 415.5h3M855 415.5h1M664 416.5h2M854 416.5h1M666 417.5h4M853 417.5h1M670 418.5h4M852 418.5h1M674 419.5h4M851 419.5h1M678 420.5h4M850 420.5h1M682 421.5h2M849 421.5h1M684 422.5h2M848 422.5h1M686 423.5h2M847 423.5h1M688 424.5h1M846 424.5h1M689 425.5h2M845 425.5h1M691 426.5h1M760 426.5h8M844 426.5h1M692 427.5h2M752 427.5h8M768 427.5h5M843 427.5h1M694 428.5h2M714 428.5h38M773 428.5h2M842 428.5h1M696 429.5h2M710 429.5h4M775 429.5h2M840 429.5h2M698 430.5h2M704 430.5h6M777 430.5h2M839 430.5h1M700 431.5h4M779 431.5h1M838 431.5h1M780 432.5h2M836 432.5h2M782 433.5h2M834 433.5h2M784 434.5h1M830 434.5h4M785 435.5h2M818 435.5h12M787 436.5h3M814 436.5h4M790 437.5h4M808 437.5h6M794 438.5h14" fill="none" stroke="#ffff00" stroke-width="1" shape-rendering="crispEdges"/>
<path d="M3 118.5h1M28 118.5h2M4 117.5h1M26 117.5h2M5 116.5h2M24 116.5h2M7 115.5h1M22 115.5h2M8 114.5h3M17 114.5h5M11 113.5h6M30 119.5h1M31 120.5h1M32 121.5h2M34 122.5h1M39 122.5h4M35 123.5h4M43 123.5h1M43 124.5h1M44 125.5h1M45 126.5h1M46 127.5h1M46 128.5h1M47 129.5h1M48 130.5h1M49 131.5h1M49 132.5h1M50 133.5h1M51 134.5h1M52 135.5h1M53 136.5h1M54 137.5h1M55 138.5h1M55 139.5h1M56 140.5h1M57 141.5h1M58 142.5h1M59 143.5h1M59 144.5h1M60 145.5h1M60 146.5h1M61 147.5h1M61 148.5h1M62 149.5h1M62 150.5h1M63 151.5h1M63 152.5h1M64 153.5h1M64 154.5h1M65 155.5h1M65 156.5h1M66 157.5h1M66 158.5h1M67 159.5h1M67 160.5h1M68 161.5h1M68 162.5h1M69 163.5h1M69 164.5h1M70 165.5h1M71 166.5h1M71 167.5h1M72 168.5h1M73 169.5h1M73 170.5h1M74 171.5h1M74 172.5h1M75 173.5h1M75 174.5h1M76 175.5h1M76 176.5h1M77 177.5h1M77 178.5h1M78 179.5h1M78 180.5h1M79 181.5h1M79 182.5h1M80 183.5h1M80 184.5h1M81 185.5h1M81 186.5h1M82 187.5h1M82 188.5h1M83 189.5h1M83 190.5h1M84 191.5h1M84 192.5h1M85 193.5h1M85 194.5h1M86 195.5h1M86 196.5h1M87 197.5h1M87 198.5h1M88 199.5h1M88 200.5h1M89 201.5h1M89 202.5h1M90 203.5h1M90 204.5h1M91 205.5h1M200 205.5h12M91 206.5h1M195 206.5h5M212 206.5h1M92 207.5h1M193 207.5h2M212 207.5h1M92 208.5h1M191 208.5h2M213 208.5h1M93 209.5h1M189 209.5h2M213 209.5h1M93 210.5h1M187 210.5h2M214 210.5h1M94 211.5h1M186 211.5h1M214 211.5h1M94 212.5h1M185 212.5h1M215 212.5h1M95 213.5h1M184 213.5h1M216 213.5h1M95 214.5h1M183 214.5h1M216 214.5h1M96 215.5h1M182 215.5h1M217 215.5h1M96 216.5h1M181 216.5h1M217 216.5h1M97 217.5h1M180 217.5h1M218 217.5h1M97 218.5h1M179 218.5h1M218 218.5h1M98 219.5h1M178 219.5h1M219 219.5h1M98 220.5h1M177 220.5h1M220 220.5h1M99 221.5h1M176 221.5h1M221 221.5h1M100 222.5h1M175 222.5h1M222 222.5h1M100 223.5h1M175 223.5h1M223 223.5h1M101 224.5h1M174 224.5h1M223 224.5h1M101 225.5h1M173 225.5h1M224 225.5h1M102 226.5h1M172 226.5h1M225 226.5h1M103 227.5h1M171 227.5h1M226 227.5h1M103 228.5h1M169 228.5h2M227 228.5h1M1027 228.5h6M104 229.5h1M168 229.5h1M228 229.5h1M1026 229.5h1M1033 229.5h3M105 230.5h1M166 230.5h2M229 230.5h1M1025 230.5h1M1036 230.5h2M105 231.5h1M164 231.5h2M229 231.5h1M1024 231.5h1M1038 231.5h1M106 232.5h1M163 232.5h1M230 232.5h1M1023 232.5h1M1039 232.5h1M106 233.5h1M162 233.5h1M231 233.5h1M1022 233.5h1M1040 233.5h1M107 234.5h1M161 234.5h1M232 234.5h1M1021 234.5h1M1041 234.5h1M108 235.5h1M160 235.5h1M233 235.5h1M1020 235.5h1M1042 235.5h1M109 236.5h1M159 236.5h1M233 236.5h1M1019 236.5h1M1043 236.5h1M110 237.5h1M159 237.5h1M234 237.5h1M1018 237.5h1M1044 237.5h1M111 238.5h1M158 238.5h1M235 238.5h1M1016 238.5h2M1044 238.5h1M111 239.5h1M157 239.5h1M236 239.5h1M1015 239.5h1M1045 239.5h1M112 240.5h1M156 240.5h1M237 240.5h1M1014 240.5h1M1045 240.5h1M113 241.5h1M155 241.5h1M237 241.5h1M1013 241.5h1M1046 241.5h1M114 242.5h1M154 242.5h1M238 242.5h1M1011 242.5h2M1046 242.5h1M115 243.5h1M153 243.5h1M239 243.5h1M1010 243.5h1M1047 243.5h1M116 244.5h2M152 244.5h1M240 244.5h1M1009 244.5h1M1047 244.5h1M118 245.5h1M151 245.5h1M241 245.5h1M1008 245.5h1M1048 245.5h1M119 246.5h1M150 246.5h1M241 246.5h1M1007 246.5h1M1048 246.5h1M120 247.5h2M149 247.5h1M242 247.5h1M347 247.5h5M1006 247.5h1M1049 247.5h1M122 248.5h1M148 248.5h1M243 248.5h1M345 248.5h2M352 248.5h5M1005 248.5h1M1049 248.5h1M123 249.5h1M147 249.5h1M244 249.5h2M344 249.5h1M357 249.5h3M1004 249.5h1M1050 249.5h1M124 250.5h2M145 250.5h2M246 250.5h2M342 250.5h2M360 250.5h2M1003 250.5h1M1050 250.5h1M126 251.5h2M144 251.5h1M248 251.5h1M340 251.5h2M362 251.5h2M1002 251.5h1M1051 251.5h1M128 252.5h1M142 252.5h2M249 252.5h2M339 252.5h1M364 252.5h1M1001 252.5h1M1051 252.5h1M129 253.5h2M140 253.5h2M251 253.5h2M338 253.5h1M365 253.5h1M1000 253.5h1M1052 253.5h1M131 254.5h9M253 254.5h2M336 254.5h2M366 254.5h1M999 254.5h1M1052 254.5h1M255 255.5h2M335 255.5h1M367 255.5h1M998 255.5h1M1053 255.5h1M257 256.5h2M334 256.5h1M367 256.5h1M997 256.5h1M1053 256.5h1M259 257.5h1M332 257.5h2M368 257.5h1M996 257.5h1M1054 257.5h1M260 258.5h1M331 258.5h1M369 258.5h1M995 258.5h1M1054 258.5h1M261 259.5h1M330 259.5h1M370 259.5h1M994 259.5h1M1055 259.5h1M262 260.5h1M329 260.5h1M371 260.5h1M993 260.5h1M1055 260.5h1M263 261.5h1M329 261.5h1M372 261.5h1M992 261.5h1M1056 261.5h1M264 262.5h1M328 262.5h1M373 262.5h1M991 262.5h1M1056 262.5h1M265 263.5h1M327 263.5h1M373 263.5h1M990 263.5h1M1057 263.5h1M266 264.5h1M326 264.5h1M374 264.5h1M989 264.5h1M1057 264.5h1M267 265.5h1M325 265.5h1M375 265.5h1M988 265.5h1M1058 265.5h1M268 266.5h2M315 266.5h3M325 266.5h1M376 266.5h1M987 266.5h1M1058 266.5h1M270 267.5h1M314 267.5h1M318 267.5h4M324 267.5h1M377 267.5h1M986 267.5h1M1059 267.5h1M271 268.5h1M313 268.5h1M322 268.5h2M377 268.5h1M985 268.5h1M1060 268.5h1M272 269.5h2M312 269.5h1M378 269.5h1M984 269.5h1M1060 269.5h1M274 270.5h1M311 270.5h1M379 270.5h1M984 270.5h1M1061 270.5h1M275 271.5h1M310 271.5h1M380 271.5h1M983 271.5h1M1061 271.5h1M276 272.5h1M309 272.5h1M380 272.5h1M982 272.5h1M1062 272.5h1M277 273.5h1M308 273.5h1M381 273.5h1M981 273.5h1M1062 273.5h1M278 274.5h1M307 274.5h1M382 274.5h1M980 274.5h1M1063 274.5h1M279 275.5h1M306 275.5h1M383 275.5h1M979 275.5h1M1063 275.5h1M280 276.5h2M305 276.5h1M383 276.5h1M977 276.5h2M1064 276.5h1M282 277.5h3M304 277.5h1M384 277.5h1M975 277.5h2M1064 277.5h1M285 278.5h3M303 278.5h1M385 278.5h1M974 278.5h1M1065 278.5h1M288 279.5h4M302 279.5h1M386 279.5h1M972 279.5h2M1065 279.5h1M292 280.5h3M301 280.5h1M386 280.5h1M970 280.5h2M1066 280.5h1M295 281.5h3M300 281.5h1M387 281.5h1M969 281.5h1M1066 281.5h1M298 282.5h2M388 282.5h1M967 282.5h2M1067 282.5h1M388 283.5h1M966 283.5h1M1068 283.5h1M389 284.5h1M965 284.5h1M1068 284.5h1M389 285.5h1M963 285.5h2M1069 285.5h1M390 286.5h1M962 286.5h1M1070 286.5h1M391 287.5h1M960 287.5h2M1070 287.5h1M391 288.5h1M959 288.5h1M1071 288.5h1M392 289.5h1M957 289.5h2M1072 289.5h1M393 290.5h1M956 290.5h1M1072 290.5h1M393 291.5h1M955 291.5h1M1073 291.5h1M394 292.5h1M953 292.5h2M1074 292.5h1M394 293.5h1M952 293.5h1M1074 293.5h1M395 294.5h1M950 294.5h2M1075 294.5h1M396 295.5h1M949 295.5h1M1076 295.5h1M396 296.5h1M948 296.5h1M1076 296.5h1M397 297.5h1M947 297.5h1M1077 297.5h1M398 298.5h1M946 298.5h1M1078 298.5h1M398 299.5h1M945 299.5h1M1079 299.5h1M399 300.5h1M944 300.5h1M1079 300.5h1M400 301.5h1M944 301.5h1M1080 301.5h1M400 302.5h1M943 302.5h1M1081 302.5h1M401 303.5h1M942 303.5h1M1082 303.5h1M402 304.5h1M941 304.5h1M1082 304.5h1M402 305.5h1M940 305.5h1M1083 305.5h1M403 306.5h1M939 306.5h1M1084 306.5h1M404 307.5h1M938 307.5h1M1085 307.5h1M404 308.5h1M938 308.5h1M1086 308.5h1M405 309.5h1M937 309.5h1M1087 309.5h1M405 310.5h1M936 310.5h1M1087 310.5h1M406 311.5h1M936 311.5h1M1088 311.5h1M406 312.5h1M935 312.5h1M1089 312.5h1M407 313.5h1M935 313.5h1M1090 313.5h1M408 314.5h1M934 314.5h1M1091 314.5h1M408 315.5h1M933 315.5h1M1092 315.5h1M409 316.5h1M933 316.5h1M1092 316.5h1M409 317.5h1M932 317.5h1M1093 317.5h1M410 318.5h1M931 318.5h1M1093 318.5h1M410 319.5h1M931 319.5h1M1094 319.5h1M411 320.5h1M930 320.5h1M1095 320.5h1M411 321.5h1M930 321.5h1M1095 321.5h1M412 322.5h1M929 322.5h1M1096 322.5h1M412 323.5h1M927 323.5h2M1097 323.5h1M413 324.5h1M914 324.5h6M925 324.5h2M1097 324.5h1M413 325.5h1M529 325.5h2M910 325.5h4M920 325.5h5M1098 325.5h1M413 326.5h1M525 326.5h4M531 326.5h1M907 326.5h3M1098 326.5h1M414 327.5h1M522 327.5h3M532 327.5h2M906 327.5h1M1099 327.5h1M414 328.5h1M518 328.5h4M534 328.5h1M904 328.5h2M1100 328.5h1M414 329.5h1M512 329.5h6M535 329.5h1M903 329.5h1M1100 329.5h1M415 330.5h1M506 330.5h6M536 330.5h2M902 330.5h1M1101 330.5h1M415 331.5h1M504 331.5h2M538 331.5h1M900 331.5h2M1101 331.5h1M416 332.5h1M501 332.5h3M539 332.5h1M899 332.5h1M1102 332.5h1M416 333.5h1M499 333.5h2M540 333.5h1M898 333.5h1M1102 333.5h1M416 334.5h1M498 334.5h1M540 334.5h1M897 334.5h1M1103 334.5h1M417 335.5h1M497 335.5h1M541 335.5h1M896 335.5h1M1104 335.5h1M417 336.5h1M496 336.5h1M541 336.5h1M895 336.5h1M1104 336.5h1M417 337.5h1M495 337.5h1M542 337.5h1M894 337.5h1M1105 337.5h1M418 338.5h1M494 338.5h1M543 338.5h1M893 338.5h1M1105 338.5h1M418 339.5h1M493 339.5h1M543 339.5h1M892 339.5h1M1106 339.5h1M419 340.5h1M492 340.5h1M544 340.5h1M891 340.5h1M1106 340.5h1M419 341.5h1M491 341.5h1M545 341.5h1M890 341.5h1M1107 341.5h1M420 342.5h1M490 342.5h1M545 342.5h1M889 342.5h1M1108 342.5h1M420 343.5h1M489 343.5h1M546 343.5h1M888 343.5h1M1109 343.5h1M421 344.5h1M488 344.5h1M546 344.5h1M886 344.5h2M1110 344.5h1M421 345.5h1M486 345.5h2M547 345.5h1M885 345.5h1M1111 345.5h1M422 346.5h1M485 346.5h1M548 346.5h1M884 346.5h1M1112 346.5h1M422 347.5h1M484 347.5h1M548 347.5h1M883 347.5h1M1113 347.5h1M423 348.5h1M483 348.5h1M549 348.5h1M882 348.5h1M1114 348.5h1M423 349.5h1M482 349.5h1M550 349.5h1M881 349.5h1M1115 349.5h1M424 350.5h1M481 350.5h1M550 350.5h1M881 350.5h1M424 351.5h1M480 351.5h1M551 351.5h1M880 351.5h1M425 352.5h1M479 352.5h1M552 352.5h1M879 352.5h1M425 353.5h1M479 353.5h1M552 353.5h1M878 353.5h1M426 354.5h1M478 354.5h1M553 354.5h1M877 354.5h1M426 355.5h1M477 355.5h1M554 355.5h1M877 355.5h1M427 356.5h2M476 356.5h1M554 356.5h1M876 356.5h1M429 357.5h2M475 357.5h1M555 357.5h1M875 357.5h1M431 358.5h2M474 358.5h1M556 358.5h1M874 358.5h1M433 359.5h2M473 359.5h1M556 359.5h1M874 359.5h1M435 360.5h2M472 360.5h1M557 360.5h1M873 360.5h1M437 361.5h2M471 361.5h1M558 361.5h1M872 361.5h1M439 362.5h2M470 362.5h1M559 362.5h1M871 362.5h1M441 363.5h2M469 363.5h1M559 363.5h1M871 363.5h1M443 364.5h2M468 364.5h1M560 364.5h1M870 364.5h1M445 365.5h3M466 365.5h2M561 365.5h1M869 365.5h1M448 366.5h2M463 366.5h3M562 366.5h1M868 366.5h1M450 367.5h5M459 367.5h4M562 367.5h1M868 367.5h1M455 368.5h4M563 368.5h1M867 368.5h1M564 369.5h1M866 369.5h1M565 370.5h1M866 370.5h1M566 371.5h2M865 371.5h1M568 372.5h1M864 372.5h1M569 373.5h1M864 373.5h1M570 374.5h1M863 374.5h1M571 375.5h1M862 375.5h1M572 376.5h1M862 376.5h1M573 377.5h1M861 377.5h1M574 378.5h1M860 378.5h1M575 379.5h1M860 379.5h1M575 380.5h1M859 380.5h1M576 381.5h1M859 381.5h1M577 382.5h1M858 382.5h1M578 383.5h1M858 383.5h1M579 384.5h1M857 384.5h1M580 385.5h1M857 385.5h1M581 386.5h1M856 386.5h1M581 387.5h1M856 387.5h1M582 388.5h1M855 388.5h1M583 389.5h1M855 389.5h1M583 390.5h1M854 390.5h1M584 391.5h1M854 391.5h1M585 392.5h1M853 392.5h1M586 393.5h1M853 393.5h1M586 394.5h1M852 394.5h1M587 395.5h1M852 395.5h1M588 396.5h1M851 396.5h1M588 397.5h1M851 397.5h1M589 398.5h1M850 398.5h1M590 399.5h1M850 399.5h1M591 400.5h1M849 400.5h1M591 401.5h1M849 401.5h1M592 402.5h1M848 402.5h1M593 403.5h1M848 403.5h1M594 404.5h1M847 404.5h1M594 405.5h1M847 405.5h1M595 406.5h1M846 406.5h1M596 407.5h1M846 407.5h1M597 408.5h1M845 408.5h1M597 409.5h1M845 409.5h1M598 410.5h1M680 410.5h5M844 410.5h1M599 411.5h1M674 411.5h6M685 411.5h3M844 411.5h1M600 412.5h1M672 412.5h2M688 412.5h2M843 412.5h1M601 413.5h1M669 413.5h3M690 413.5h3M842 413.5h1M601 414.5h1M667 414.5h2M693 414.5h2M842 414.5h1M602 415.5h1M666 415.5h1M695 415.5h2M841 415.5h1M603 416.5h1M665 416.5h1M697 416.5h2M841 416.5h1M604 417.5h1M664 417.5h1M699 417.5h5M840 417.5h1M605 418.5h1M662 418.5h2M704 418.5h5M839 418.5h1M605 419.5h1M661 419.5h1M709 419.5h3M839 419.5h1M606 420.5h1M660 420.5h1M712 420.5h2M838 420.5h1M607 421.5h1M659 421.5h1M714 421.5h4M837 421.5h1M608 422.5h1M658 422.5h1M718 422.5h4M837 422.5h1M609 423.5h1M658 423.5h1M722 423.5h2M836 423.5h1M609 424.5h1M657 424.5h1M724 424.5h2M836 424.5h1M610 425.5h1M656 425.5h1M726 425.5h2M835 425.5h1M611 426.5h3M655 426.5h1M728 426.5h1M834 426.5h1M614 427.5h4M655 427.5h1M729 427.5h2M834 427.5h1M618 428.5h2M654 428.5h1M731 428.5h26M833 428.5h1M620 429.5h1M653 429.5h1M757 429.5h2M832 429.5h1M621 430.5h1M652 430.5h1M759 430.5h2M831 430.5h1M622 431.5h2M652 431.5h1M761 431.5h2M831 431.5h1M624 432.5h1M651 432.5h1M763 432.5h1M830 432.5h1M625 433.5h1M650 433.5h1M764 433.5h2M829 433.5h1M626 434.5h1M649 434.5h1M766 434.5h1M828 434.5h1M627 435.5h1M649 435.5h1M767 435.5h1M828 435.5h1M628 436.5h1M648 436.5h1M768 436.5h2M827 436.5h1M629 437.5h1M647 437.5h1M770 437.5h1M826 437.5h1M630 438.5h2M646 438.5h1M771 438.5h1M825 438.5h1M632 439.5h1M645 439.5h1M772 439.5h1M823 439.5h2M633 440.5h1M645 440.5h1M773 440.5h1M822 440.5h1M634 441.5h1M644 441.5h1M774 441.5h1M821 441.5h1M635 442.5h9M775 442.5h1M820 442.5h1M776 443.5h1M819 443.5h1M777 444.5h1M818 444.5h1M778 445.5h1M817 445.5h1M779 446.5h1M816 446.5h1M780 447.5h1M815 447.5h1M781 448.5h1M815 448.5h1M782 449.5h2M814 449.5h1M784 450.5h1M813 450.5h1M785 451.5h1M812 451.5h1M786 452.5h1M811 452.5h1M787 453.5h1M809 453.5h2M788 454.5h1M808 454.5h1M789 455.5h2M806 455.5h2M791 456.5h1M804 456.5h2M792 457.5h1M799 457.5h5M793 458.5h6" fill="none" stroke="#ff0000" stroke-width="1" shape-rendering="crispEdges"/>
<path d="M3 65.5h1M4 66.5h1M23 96.5h1M23 97.5h1M23 98.5h1M24 99.5h1M24 100.5h1M24 101.5h1M24 102.5h1M25 103.5h1M25 104.5h1M25 105.5h1M25 106.5h1M26 107.5h1M26 108.5h1M26 109.5h1M27 110.5h1M27 111.5h1M27 112.5h1M27 113.5h1M28 114.5h1M28 115.5h1M28 116.5h1M28 117.5h1M29 118.5h1M29 119.5h1M29 120.5h1M30 121.5h1M30 122.5h1M30 123.5h1M30 124.5h1M31 125.5h1M31 126.5h1M31 127.5h1M32 128.5h1M32 129.5h1M32 130.5h1M33 131.5h1M33 132.5h1M33 133.5h1M34 134.5h1M34 135.5h1M34 136.5h1M35 137.5h1M35 138.5h1M35 139.5h1M36 140.5h1M36 141.5h1M36 142.5h1M37 143.5h1M37 144.5h1M38 145.5h1M38 146.5h1M38 147.5h1M39 148.5h1M39 149.5h1M39 150.5h1M40 151.5h1M40 152.5h1M40 153.5h1M41 154.5h1M41 155.5h1M41 156.5h1M42 157.5h1M42 158.5h1M42 159.5h1M43 160.5h1M43 161.5h1M43 162.5h1M43 163.5h1M44 164.5h1M44 165.5h1M44 166.5h1M44 167.5h1M990 167.5h4M45 168.5h1M987 168.5h3M994 168.5h2M45 169.5h1M986 169.5h1M995 169.5h1M45 170.5h1M986 170.5h1M996 170.5h1M45 171.5h1M985 171.5h1M996 171.5h1M46 172.5h1M985 172.5h1M997 172.5h1M46 173.5h1M984 173.5h1M997 173.5h1M46 174.5h1M983 174.5h1M998 174.5h1M46 175.5h1M983 175.5h1M998 175.5h1M47 176.5h1M982 176.5h1M999 176.5h1M47 177.5h1M982 177.5h1M999 177.5h1M47 178.5h1M190 178.5h4M981 178.5h1M1000 178.5h1M47 179.5h1M187 179.5h3M194 179.5h2M981 179.5h1M1000 179.5h1M47 180.5h1M186 180.5h1M196 180.5h1M980 180.5h1M1001 180.5h1M48 181.5h1M185 181.5h1M197 181.5h1M980 181.5h1M1001 181.5h1M48 182.5h1M184 182.5h1M197 182.5h1M980 182.5h1M1001 182.5h1M48 183.5h1M182 183.5h2M198 183.5h1M979 183.5h1M1002 183.5h1M48 184.5h1M181 184.5h1M199 184.5h1M979 184.5h1M1002 184.5h1M49 185.5h1M180 185.5h1M200 185.5h1M979 185.5h1M1003 185.5h1M49 186.5h1M179 186.5h1M200 186.5h1M978 186.5h1M1003 186.5h1M49 187.5h1M177 187.5h2M201 187.5h1M978 187.5h1M1003 187.5h1M49 188.5h1M175 188.5h2M202 188.5h1M978 188.5h1M1004 188.5h1M50 189.5h1M173 189.5h2M202 189.5h1M977 189.5h1M1004 189.5h1M50 190.5h1M171 190.5h2M203 190.5h1M977 190.5h1M1004 190.5h1M50 191.5h1M169 191.5h2M203 191.5h1M977 191.5h1M1005 191.5h1M50 192.5h1M168 192.5h1M204 192.5h1M976 192.5h1M1005 192.5h1M51 193.5h1M166 193.5h2M204 193.5h1M976 193.5h1M1005 193.5h1M51 194.5h1M164 194.5h2M205 194.5h1M976 194.5h1M1005 194.5h1M51 195.5h1M163 195.5h1M205 195.5h1M975 195.5h1M1006 195.5h1M51 196.5h1M162 196.5h1M206 196.5h1M975 196.5h1M1006 196.5h1M52 197.5h1M161 197.5h1M206 197.5h1M975 197.5h1M1006 197.5h1M52 198.5h1M160 198.5h1M207 198.5h1M974 198.5h1M1007 198.5h1M52 199.5h1M158 199.5h2M207 199.5h1M974 199.5h1M1007 199.5h1M53 200.5h1M157 200.5h1M208 200.5h1M974 200.5h1M1007 200.5h1M53 201.5h1M156 201.5h1M208 201.5h1M974 201.5h1M1008 201.5h1M53 202.5h1M155 202.5h1M209 202.5h1M973 202.5h1M1008 202.5h1M53 203.5h1M154 203.5h1M209 203.5h1M973 203.5h1M1008 203.5h1M54 204.5h1M154 204.5h1M210 204.5h1M973 204.5h1M1009 204.5h1M54 205.5h1M153 205.5h1M210 205.5h1M973 205.5h1M1009 205.5h1M54 206.5h1M153 206.5h1M211 206.5h1M972 206.5h1M1009 206.5h1M55 207.5h1M152 207.5h1M211 207.5h1M972 207.5h1M1010 207.5h1M55 208.5h1M152 208.5h1M211 208.5h1M316 208.5h2M972 208.5h1M1010 208.5h1M55 209.5h1M151 209.5h1M212 209.5h1M315 209.5h1M318 209.5h4M971 209.5h1M1010 209.5h1M56 210.5h1M150 210.5h1M212 210.5h1M314 210.5h1M322 210.5h2M971 210.5h1M1011 210.5h1M56 211.5h1M150 211.5h1M212 211.5h1M313 211.5h1M324 211.5h2M971 211.5h1M1011 211.5h1M56 212.5h1M149 212.5h1M212 212.5h1M312 212.5h1M326 212.5h2M971 212.5h1M1011 212.5h1M57 213.5h1M149 213.5h1M212 213.5h1M311 213.5h1M328 213.5h1M970 213.5h1M1012 213.5h1M57 214.5h1M148 214.5h1M213 214.5h1M310 214.5h1M329 214.5h2M970 214.5h1M1012 214.5h1M57 215.5h1M148 215.5h1M213 215.5h1M309 215.5h1M331 215.5h5M970 215.5h1M1013 215.5h1M58 216.5h1M147 216.5h1M213 216.5h1M308 216.5h1M336 216.5h4M970 216.5h1M1013 216.5h1M58 217.5h1M147 217.5h1M213 217.5h1M307 217.5h1M340 217.5h1M969 217.5h1M1014 217.5h1M58 218.5h1M146 218.5h1M213 218.5h1M307 218.5h1M340 218.5h1M969 218.5h1M1014 218.5h1M59 219.5h1M146 219.5h1M214 219.5h1M306 219.5h1M341 219.5h1M969 219.5h1M1015 219.5h1M59 220.5h1M145 220.5h1M214 220.5h1M306 220.5h1M341 220.5h1M969 220.5h1M1015 220.5h1M59 221.5h1M145 221.5h1M214 221.5h1M306 221.5h1M342 221.5h1M968 221.5h1M1015 221.5h1M59 222.5h1M144 222.5h1M214 222.5h1M306 222.5h1M342 222.5h1M968 222.5h1M1016 222.5h1M60 223.5h1M144 223.5h1M214 223.5h1M305 223.5h1M343 223.5h1M968 223.5h1M1016 223.5h1M60 224.5h1M143 224.5h1M215 224.5h1M305 224.5h1M344 224.5h1M968 224.5h1M1017 224.5h1M60 225.5h1M142 225.5h1M215 225.5h1M305 225.5h1M344 225.5h1M967 225.5h1M1017 225.5h1M60 226.5h1M142 226.5h1M215 226.5h1M304 226.5h1M345 226.5h1M967 226.5h1M1018 226.5h1M61 227.5h1M141 227.5h1M215 227.5h1M304 227.5h1M345 227.5h1M967 227.5h1M1018 227.5h1M61 228.5h1M141 228.5h1M215 228.5h1M304 228.5h1M346 228.5h1M967 228.5h1M1019 228.5h1M61 229.5h1M140 229.5h1M216 229.5h1M304 229.5h1M346 229.5h1M966 229.5h1M1019 229.5h1M61 230.5h1M140 230.5h1M216 230.5h1M303 230.5h1M347 230.5h1M966 230.5h1M1020 230.5h1M61 231.5h1M139 231.5h1M216 231.5h1M303 231.5h1M347 231.5h1M966 231.5h1M1020 231.5h1M62 232.5h1M139 232.5h1M216 232.5h1M303 232.5h1M348 232.5h1M966 232.5h1M1021 232.5h1M62 233.5h1M138 233.5h1M217 233.5h1M302 233.5h1M348 233.5h1M965 233.5h1M1021 233.5h1M62 234.5h1M137 234.5h1M217 234.5h1M302 234.5h1M349 234.5h1M965 234.5h1M1022 234.5h1M62 235.5h1M137 235.5h1M217 235.5h1M301 235.5h1M349 235.5h1M965 235.5h1M1022 235.5h1M63 236.5h1M136 236.5h1M217 236.5h1M301 236.5h1M350 236.5h1M965 236.5h1M1023 236.5h1M63 237.5h1M135 237.5h1M217 237.5h1M300 237.5h1M350 237.5h1M964 237.5h1M1024 237.5h1M63 238.5h1M134 238.5h1M218 238.5h1M300 238.5h1M351 238.5h1M964 238.5h1M1024 238.5h1M63 239.5h1M133 239.5h1M218 239.5h1M299 239.5h1M351 239.5h1M964 239.5h1M1025 239.5h1M64 240.5h1M133 240.5h1M218 240.5h1M299 240.5h1M352 240.5h1M964 240.5h1M1025 240.5h1M64 241.5h1M132 241.5h1M218 241.5h1M299 241.5h1M352 241.5h1M963 241.5h1M1026 241.5h1M64 242.5h1M131 242.5h1M219 242.5h1M298 242.5h1M353 242.5h1M963 242.5h1M1026 242.5h1M65 243.5h1M130 243.5h1M219 243.5h1M298 243.5h1M353 243.5h1M963 243.5h1M1027 243.5h1M65 244.5h1M129 244.5h1M219 244.5h1M297 244.5h1M354 244.5h1M963 244.5h1M1027 244.5h1M65 245.5h1M129 245.5h1M219 245.5h1M297 245.5h1M354 245.5h1M963 245.5h1M1028 245.5h1M65 246.5h1M128 246.5h1M220 246.5h1M296 246.5h1M354 246.5h1M962 246.5h1M1028 246.5h1M66 247.5h1M127 247.5h1M220 247.5h1M296 247.5h1M354 247.5h1M962 247.5h1M1028 247.5h1M66 248.5h1M126 248.5h1M220 248.5h1M296 248.5h1M355 248.5h1M962 248.5h1M1029 248.5h1M66 249.5h1M125 249.5h1M220 249.5h1M295 249.5h1M355 249.5h1M962 249.5h1M1029 249.5h1M67 250.5h1M125 250.5h1M221 250.5h1M295 250.5h1M355 250.5h1M962 250.5h1M1029 250.5h1M67 251.5h1M124 251.5h1M221 251.5h1M294 251.5h1M355 251.5h1M962 251.5h1M1029 251.5h1M67 252.5h1M123 252.5h1M221 252.5h1M294 252.5h1M355 252.5h1M961 252.5h1M1030 252.5h1M68 253.5h1M122 253.5h1M222 253.5h1M293 253.5h1M356 253.5h1M961 253.5h1M1030 253.5h1M68 254.5h1M122 254.5h1M222 254.5h1M293 254.5h1M356 254.5h1M961 254.5h1M1030 254.5h1M69 255.5h1M121 255.5h1M222 255.5h1M293 255.5h1M356 255.5h1M961 255.5h1M1031 255.5h1M69 256.5h1M121 256.5h1M222 256.5h1M292 256.5h1M356 256.5h1M961 256.5h1M1031 256.5h1M70 257.5h1M120 257.5h1M223 257.5h1M292 257.5h1M356 257.5h1M960 257.5h1M1031 257.5h1M70 258.5h1M120 258.5h1M223 258.5h1M291 258.5h1M357 258.5h1M960 258.5h1M1032 258.5h1M71 259.5h1M119 259.5h1M223 259.5h1M291 259.5h1M357 259.5h1M960 259.5h1M1032 259.5h1M71 260.5h1M119 260.5h1M224 260.5h1M290 260.5h1M357 260.5h1M960 260.5h1M1032 260.5h1M72 261.5h1M118 261.5h1M224 261.5h1M290 261.5h1M357 261.5h1M959 261.5h1M1032 261.5h1M72 262.5h1M118 262.5h1M224 262.5h1M290 262.5h1M357 262.5h1M959 262.5h1M1033 262.5h1M73 263.5h1M117 263.5h1M225 263.5h1M289 263.5h1M358 263.5h1M959 263.5h1M1033 263.5h1M74 264.5h1M117 264.5h1M225 264.5h1M289 264.5h1M358 264.5h1M958 264.5h1M1033 264.5h1M74 265.5h1M116 265.5h1M226 265.5h1M289 265.5h1M358 265.5h1M883 265.5h1M958 265.5h1M1033 265.5h1M75 266.5h1M116 266.5h1M226 266.5h1M288 266.5h1M358 266.5h1M882 266.5h1M884 266.5h1M958 266.5h1M1034 266.5h1M76 267.5h1M114 267.5h2M226 267.5h1M288 267.5h1M358 267.5h1M881 267.5h1M884 267.5h1M958 267.5h1M1034 267.5h1M77 268.5h1M110 268.5h4M227 268.5h1M288 268.5h1M359 268.5h1M881 268.5h1M885 268.5h1M957 268.5h1M1034 268.5h1M78 269.5h1M108 269.5h2M227 269.5h1M287 269.5h1M359 269.5h1M880 269.5h1M885 269.5h1M957 269.5h1M1034 269.5h1M79 270.5h2M107 270.5h1M227 270.5h1M287 270.5h1M359 270.5h1M879 270.5h1M886 270.5h1M957 270.5h1M1035 270.5h1M81 271.5h1M107 271.5h1M227 271.5h1M287 271.5h1M359 271.5h1M878 271.5h1M886 271.5h1M956 271.5h1M1035 271.5h1M82 272.5h1M106 272.5h1M228 272.5h1M286 272.5h1M359 272.5h1M877 272.5h1M887 272.5h1M956 272.5h1M1035 272.5h1M83 273.5h1M105 273.5h1M228 273.5h1M286 273.5h1M360 273.5h1M877 273.5h1M888 273.5h1M956 273.5h1M1036 273.5h1M84 274.5h1M105 274.5h1M228 274.5h1M286 274.5h1M360 274.5h1M876 274.5h1M888 274.5h1M956 274.5h1M1036 274.5h1M85 275.5h2M104 275.5h1M229 275.5h1M285 275.5h1M360 275.5h1M875 275.5h1M889 275.5h1M955 275.5h1M1036 275.5h1M87 276.5h2M103 276.5h1M229 276.5h1M285 276.5h1M360 276.5h1M874 276.5h1M889 276.5h1M955 276.5h1M1036 276.5h1M89 277.5h2M102 277.5h1M229 277.5h1M285 277.5h1M360 277.5h1M873 277.5h1M890 277.5h1M955 277.5h1M1037 277.5h1M91 278.5h2M102 278.5h1M230 278.5h1M284 278.5h1M361 278.5h1M872 278.5h1M890 278.5h1M954 278.5h1M1037 278.5h1M93 279.5h2M101 279.5h1M230 279.5h1M284 279.5h1M361 279.5h1M871 279.5h1M891 279.5h1M954 279.5h1M1037 279.5h1M95 280.5h2M100 280.5h1M230 280.5h1M284 280.5h1M361 280.5h1M870 280.5h1M891 280.5h1M954 280.5h1M1037 280.5h1M97 281.5h2M100 281.5h1M230 281.5h1M283 281.5h1M361 281.5h1M869 281.5h1M892 281.5h1M954 281.5h1M1038 281.5h1M99 282.5h1M231 282.5h1M283 282.5h1M362 282.5h1M868 282.5h1M892 282.5h1M953 282.5h1M1038 282.5h1M231 283.5h1M283 283.5h1M362 283.5h1M867 283.5h1M892 283.5h1M953 283.5h1M1038 283.5h1M231 284.5h1M282 284.5h1M362 284.5h1M866 284.5h1M893 284.5h1M953 284.5h1M1038 284.5h1M232 285.5h1M282 285.5h1M362 285.5h1M866 285.5h1M893 285.5h1M953 285.5h1M1039 285.5h1M232 286.5h1M282 286.5h1M363 286.5h1M865 286.5h1M893 286.5h1M952 286.5h1M1039 286.5h1M232 287.5h1M281 287.5h1M363 287.5h1M865 287.5h1M894 287.5h1M952 287.5h1M1039 287.5h1M233 288.5h1M281 288.5h1M363 288.5h1M864 288.5h1M894 288.5h1M952 288.5h1M1039 288.5h1M233 289.5h1M280 289.5h1M363 289.5h1M864 289.5h1M894 289.5h1M952 289.5h1M1040 289.5h1M233 290.5h1M280 290.5h1M364 290.5h1M863 290.5h1M895 290.5h1M951 290.5h1M1040 290.5h1M233 291.5h1M279 291.5h1M364 291.5h1M863 291.5h1M895 291.5h1M951 291.5h1M1040 291.5h1M234 292.5h1M279 292.5h1M364 292.5h1M862 292.5h1M895 292.5h1M951 292.5h1M1040 292.5h1M234 293.5h1M279 293.5h1M364 293.5h1M499 293.5h1M862 293.5h1M896 293.5h1M951 293.5h1M1041 293.5h1M234 294.5h1M278 294.5h1M365 294.5h1M497 294.5h2M500 294.5h1M861 294.5h1M896 294.5h1M950 294.5h1M1041 294.5h1M235 295.5h1M278 295.5h1M365 295.5h1M496 295.5h1M501 295.5h1M861 295.5h1M896 295.5h1M950 295.5h1M1041 295.5h1M235 296.5h1M277 296.5h1M365 296.5h1M494 296.5h2M502 296.5h1M860 296.5h1M897 296.5h1M950 296.5h1M1041 296.5h1M235 297.5h1M277 297.5h1M365 297.5h1M492 297.5h2M503 297.5h1M860 297.5h1M897 297.5h1M950 297.5h1M1042 297.5h1M236 298.5h1M277 298.5h1M366 298.5h1M491 298.5h1M503 298.5h1M859 298.5h1M897 298.5h1M949 298.5h1M1042 298.5h1M236 299.5h1M276 299.5h1M366 299.5h1M490 299.5h1M504 299.5h1M859 299.5h1M898 299.5h1M949 299.5h1M1042 299.5h1M237 300.5h1M276 300.5h1M366 300.5h1M489 300.5h1M505 300.5h1M858 300.5h1M898 300.5h1M949 300.5h1M1042 300.5h1M237 301.5h1M275 301.5h1M366 301.5h1M487 301.5h2M506 301.5h1M858 301.5h1M898 301.5h1M949 301.5h1M1043 301.5h1M238 302.5h1M275 302.5h1M367 302.5h1M486 302.5h1M507 302.5h2M858 302.5h1M899 302.5h1M949 302.5h1M1043 302.5h1M238 303.5h1M274 303.5h1M367 303.5h1M485 303.5h1M509 303.5h2M857 303.5h1M899 303.5h1M948 303.5h1M1043 303.5h1M239 304.5h1M274 304.5h1M367 304.5h1M484 304.5h1M511 304.5h2M857 304.5h1M899 304.5h1M948 304.5h1M1044 304.5h1M239 305.5h1M274 305.5h1M367 305.5h1M483 305.5h1M513 305.5h2M857 305.5h1M900 305.5h1M948 305.5h1M1044 305.5h1M239 306.5h1M273 306.5h1M368 306.5h1M483 306.5h1M515 306.5h1M856 306.5h1M900 306.5h1M948 306.5h1M1044 306.5h1M240 307.5h1M273 307.5h1M368 307.5h1M482 307.5h1M516 307.5h2M856 307.5h1M901 307.5h1M948 307.5h1M1044 307.5h1M240 308.5h1M273 308.5h1M368 308.5h1M482 308.5h1M518 308.5h1M856 308.5h1M901 308.5h1M947 308.5h1M1045 308.5h1M241 309.5h1M272 309.5h1M368 309.5h1M481 309.5h1M519 309.5h1M855 309.5h1M901 309.5h1M947 309.5h1M1045 309.5h1M241 310.5h1M272 310.5h1M369 310.5h1M481 310.5h1M520 310.5h2M855 310.5h1M902 310.5h1M947 310.5h1M1045 310.5h1M242 311.5h1M272 311.5h1M369 311.5h1M480 311.5h1M522 311.5h1M855 311.5h1M902 311.5h1M947 311.5h1M1045 311.5h1M242 312.5h1M271 312.5h1M369 312.5h1M480 312.5h1M523 312.5h1M855 312.5h1M902 312.5h1M947 312.5h1M1046 312.5h1M243 313.5h1M271 313.5h1M369 313.5h1M479 313.5h1M524 313.5h1M854 313.5h1M903 313.5h1M946 313.5h1M1046 313.5h1M243 314.5h1M271 314.5h1M370 314.5h1M479 314.5h1M524 314.5h1M854 314.5h1M903 314.5h1M946 314.5h1M1046 314.5h1M244 315.5h1M270 315.5h1M370 315.5h1M478 315.5h1M525 315.5h1M854 315.5h1M904 315.5h1M946 315.5h1M1046 315.5h1M244 316.5h1M270 316.5h1M370 316.5h1M478 316.5h1M525 316.5h1M853 316.5h1M904 316.5h1M946 316.5h1M1047 316.5h1M245 317.5h1M270 317.5h1M370 317.5h1M477 317.5h1M526 317.5h1M853 317.5h1M904 317.5h1M946 317.5h1M1047 317.5h1M245 318.5h1M270 318.5h1M371 318.5h1M477 318.5h1M526 318.5h1M853 318.5h1M905 318.5h1M945 318.5h1M1047 318.5h1M246 319.5h1M269 319.5h1M371 319.5h1M476 319.5h1M527 319.5h1M852 319.5h1M905 319.5h1M945 319.5h1M1048 319.5h1M246 320.5h1M269 320.5h1M371 320.5h1M476 320.5h1M527 320.5h1M852 320.5h1M905 320.5h1M945 320.5h1M1048 320.5h1M247 321.5h1M269 321.5h1M371 321.5h1M475 321.5h1M528 321.5h1M852 321.5h1M906 321.5h1M945 321.5h1M1048 321.5h1M247 322.5h1M268 322.5h1M372 322.5h1M475 322.5h1M528 322.5h1M851 322.5h1M906 322.5h1M945 322.5h1M1048 322.5h1M248 323.5h1M268 323.5h1M372 323.5h1M475 323.5h1M529 323.5h1M851 323.5h1M907 323.5h1M944 323.5h1M1049 323.5h1M248 324.5h1M260 324.5h2M268 324.5h1M373 324.5h1M474 324.5h1M529 324.5h1M851 324.5h1M907 324.5h1M944 324.5h1M1049 324.5h1M249 325.5h1M258 325.5h2M262 325.5h4M267 325.5h1M373 325.5h1M474 325.5h1M530 325.5h1M851 325.5h1M907 325.5h1M944 325.5h1M1049 325.5h1M249 326.5h1M256 326.5h2M266 326.5h2M374 326.5h1M473 326.5h1M530 326.5h1M850 326.5h1M908 326.5h1M944 326.5h1M1049 326.5h1M250 327.5h1M254 327.5h2M374 327.5h1M473 327.5h1M531 327.5h1M850 327.5h1M908 327.5h1M944 327.5h1M1050 327.5h1M250 328.5h1M252 328.5h2M375 328.5h1M472 328.5h1M531 328.5h1M850 328.5h1M909 328.5h1M943 328.5h1M1050 328.5h1M251 329.5h1M375 329.5h1M472 329.5h1M532 329.5h1M850 329.5h1M909 329.5h1M943 329.5h1M1050 329.5h1M376 330.5h1M471 330.5h1M532 330.5h1M850 330.5h1M909 330.5h1M943 330.5h1M1050 330.5h1M376 331.5h1M471 331.5h1M532 331.5h1M849 331.5h1M910 331.5h1M943 331.5h1M1051 331.5h1M377 332.5h1M471 332.5h1M532 332.5h1M849 332.5h1M910 332.5h1M942 332.5h1M1051 332.5h1M377 333.5h1M470 333.5h1M533 333.5h1M849 333.5h1M910 333.5h1M942 333.5h1M1051 333.5h1M378 334.5h1M470 334.5h1M533 334.5h1M849 334.5h1M911 334.5h1M942 334.5h1M1052 334.5h1M378 335.5h1M469 335.5h1M533 335.5h1M849 335.5h1M911 335.5h1M942 335.5h1M1052 335.5h1M378 336.5h1M469 336.5h1M533 336.5h1M848 336.5h1M912 336.5h1M941 336.5h1M1053 336.5h1M379 337.5h1M468 337.5h1M534 337.5h1M848 337.5h1M912 337.5h1M941 337.5h1M1053 337.5h1M379 338.5h1M468 338.5h1M534 338.5h1M848 338.5h1M912 338.5h1M941 338.5h1M1054 338.5h1M380 339.5h1M467 339.5h1M534 339.5h1M848 339.5h1M913 339.5h1M941 339.5h1M1054 339.5h1M380 340.5h1M467 340.5h1M534 340.5h1M848 340.5h1M913 340.5h1M940 340.5h1M1055 340.5h1M381 341.5h1M466 341.5h1M535 341.5h1M847 341.5h1M913 341.5h1M940 341.5h1M1055 341.5h1M381 342.5h1M466 342.5h1M535 342.5h1M847 342.5h1M914 342.5h1M940 342.5h1M1055 342.5h1M382 343.5h1M465 343.5h1M535 343.5h1M847 343.5h1M914 343.5h1M939 343.5h1M1056 343.5h1M382 344.5h1M465 344.5h1M536 344.5h1M847 344.5h1M915 344.5h1M939 344.5h1M1056 344.5h1M383 345.5h1M464 345.5h1M536 345.5h1M846 345.5h1M915 345.5h1M939 345.5h1M1057 345.5h1M383 346.5h1M464 346.5h1M536 346.5h1M846 346.5h1M915 346.5h1M939 346.5h1M1057 346.5h1M384 347.5h1M463 347.5h1M536 347.5h1M846 347.5h1M916 347.5h1M938 347.5h1M1058 347.5h1M384 348.5h1M462 348.5h1M537 348.5h1M846 348.5h1M916 348.5h1M938 348.5h1M1058 348.5h1M385 349.5h1M462 349.5h1M537 349.5h1M846 349.5h1M917 349.5h1M938 349.5h1M1059 349.5h1M1114 349.5h2M385 350.5h1M461 350.5h1M537 350.5h1M845 350.5h1M917 350.5h1M938 350.5h1M1059 350.5h1M1110 350.5h4M385 351.5h1M461 351.5h1M537 351.5h1M845 351.5h1M917 351.5h1M937 351.5h1M1060 351.5h1M1104 351.5h6M386 352.5h1M460 352.5h1M538 352.5h1M845 352.5h1M918 352.5h1M937 352.5h1M1061 352.5h1M1099 352.5h5M386 353.5h1M460 353.5h1M538 353.5h1M845 353.5h1M918 353.5h1M937 353.5h1M1062 353.5h1M1098 353.5h1M386 354.5h1M458 354.5h2M538 354.5h1M845 354.5h1M918 354.5h1M937 354.5h1M1063 354.5h1M1096 354.5h2M387 355.5h1M456 355.5h2M538 355.5h1M844 355.5h1M919 355.5h1M936 355.5h1M1064 355.5h1M1095 355.5h1M387 356.5h1M453 356.5h3M539 356.5h1M844 356.5h1M919 356.5h1M936 356.5h1M1065 356.5h1M1094 356.5h1M388 357.5h1M451 357.5h2M539 357.5h1M844 357.5h1M920 357.5h1M936 357.5h1M1066 357.5h1M1092 357.5h2M388 358.5h1M450 358.5h1M539 358.5h1M844 358.5h1M920 358.5h1M935 358.5h1M1067 358.5h1M1091 358.5h1M388 359.5h1M450 359.5h1M539 359.5h1M844 359.5h1M920 359.5h1M935 359.5h1M1068 359.5h1M1090 359.5h1M389 360.5h1M449 360.5h1M540 360.5h1M843 360.5h1M921 360.5h1M934 360.5h1M1069 360.5h1M1089 360.5h1M389 361.5h1M449 361.5h1M540 361.5h1M843 361.5h1M921 361.5h1M934 361.5h1M1070 361.5h2M1088 361.5h1M389 362.5h1M448 362.5h1M540 362.5h1M843 362.5h1M921 362.5h1M933 362.5h1M1072 362.5h1M1087 362.5h1M390 363.5h1M448 363.5h1M540 363.5h1M843 363.5h1M922 363.5h1M933 363.5h1M1073 363.5h1M1087 363.5h1M390 364.5h1M447 364.5h1M541 364.5h1M843 364.5h1M922 364.5h1M932 364.5h1M1074 364.5h1M1086 364.5h1M391 365.5h1M447 365.5h1M541 365.5h1M842 365.5h1M923 365.5h1M932 365.5h1M1075 365.5h3M1085 365.5h1M391 366.5h1M446 366.5h1M541 366.5h1M842 366.5h1M923 366.5h5M931 366.5h1M1078 366.5h4M1084 366.5h1M391 367.5h1M446 367.5h1M541 367.5h1M842 367.5h1M928 367.5h4M1082 367.5h2M392 368.5h1M445 368.5h1M542 368.5h1M842 368.5h1M392 369.5h1M445 369.5h1M542 369.5h1M842 369.5h1M392 370.5h1M444 370.5h1M542 370.5h1M841 370.5h1M393 371.5h1M444 371.5h1M542 371.5h1M841 371.5h1M393 372.5h1M443 372.5h1M543 372.5h1M841 372.5h1M394 373.5h1M442 373.5h1M543 373.5h1M841 373.5h1M394 374.5h1M442 374.5h1M543 374.5h1M841 374.5h1M394 375.5h1M441 375.5h1M543 375.5h1M840 375.5h1M395 376.5h1M441 376.5h1M544 376.5h1M840 376.5h1M395 377.5h1M440 377.5h1M544 377.5h1M840 377.5h1M396 378.5h2M439 378.5h1M544 378.5h1M840 378.5h1M398 379.5h1M439 379.5h1M544 379.5h1M840 379.5h1M399 380.5h1M438 380.5h1M545 380.5h1M839 380.5h1M400 381.5h2M437 381.5h1M545 381.5h1M839 381.5h1M402 382.5h1M437 382.5h1M545 382.5h1M839 382.5h1M403 383.5h1M436 383.5h1M545 383.5h1M839 383.5h1M404 384.5h2M436 384.5h1M546 384.5h1M839 384.5h1M406 385.5h1M435 385.5h1M546 385.5h1M839 385.5h1M407 386.5h1M433 386.5h2M546 386.5h1M838 386.5h1M408 387.5h2M432 387.5h1M547 387.5h1M838 387.5h1M410 388.5h1M431 388.5h1M547 388.5h1M838 388.5h1M411 389.5h3M429 389.5h2M547 389.5h1M838 389.5h1M414 390.5h5M425 390.5h4M547 390.5h1M838 390.5h1M419 391.5h6M548 391.5h1M837 391.5h1M548 392.5h1M683 392.5h1M837 392.5h1M548 393.5h1M681 393.5h2M684 393.5h2M837 393.5h1M548 394.5h1M679 394.5h2M686 394.5h2M837 394.5h1M549 395.5h1M677 395.5h2M688 395.5h1M837 395.5h1M549 396.5h1M672 396.5h5M689 396.5h2M836 396.5h1M549 397.5h1M667 397.5h5M691 397.5h1M836 397.5h1M549 398.5h1M666 398.5h1M692 398.5h1M836 398.5h1M550 399.5h1M665 399.5h1M692 399.5h1M836 399.5h1M550 400.5h1M664 400.5h1M693 400.5h1M835 400.5h1M550 401.5h1M662 401.5h2M693 401.5h1M835 401.5h1M550 402.5h1M661 402.5h1M694 402.5h1M835 402.5h1M551 403.5h1M660 403.5h1M695 403.5h1M835 403.5h1M551 404.5h1M659 404.5h1M695 404.5h1M834 404.5h1M551 405.5h1M658 405.5h1M696 405.5h1M834 405.5h1M552 406.5h1M657 406.5h1M697 406.5h1M834 406.5h1M552 407.5h1M656 407.5h1M697 407.5h1M834 407.5h1M552 408.5h1M655 408.5h1M698 408.5h1M833 408.5h1M552 409.5h1M655 409.5h1M698 409.5h1M833 409.5h1M553 410.5h1M654 410.5h1M699 410.5h1M833 410.5h1M553 411.5h1M653 411.5h1M700 411.5h1M833 411.5h1M553 412.5h1M652 412.5h1M700 412.5h1M832 412.5h1M553 413.5h1M651 413.5h1M701 413.5h1M832 413.5h1M554 414.5h1M650 414.5h1M702 414.5h1M832 414.5h1M554 415.5h1M650 415.5h1M703 415.5h1M832 415.5h1M554 416.5h1M649 416.5h1M703 416.5h1M831 416.5h1M554 417.5h1M649 417.5h1M704 417.5h1M831 417.5h1M555 418.5h1M648 418.5h1M705 418.5h1M831 418.5h1M555 419.5h1M647 419.5h1M706 419.5h1M830 419.5h1M556 420.5h1M647 420.5h1M706 420.5h1M830 420.5h1M556 421.5h1M646 421.5h1M707 421.5h1M830 421.5h1M557 422.5h1M645 422.5h1M707 422.5h1M829 422.5h1M557 423.5h1M645 423.5h1M708 423.5h1M829 423.5h1M558 424.5h1M644 424.5h1M708 424.5h1M829 424.5h1M558 425.5h1M626 425.5h3M644 425.5h1M709 425.5h1M828 425.5h1M559 426.5h1M622 426.5h4M629 426.5h2M642 426.5h2M709 426.5h1M828 426.5h1M560 427.5h1M619 427.5h3M631 427.5h2M640 427.5h2M710 427.5h1M828 427.5h1M560 428.5h1M618 428.5h1M633 428.5h2M638 428.5h2M710 428.5h1M827 428.5h1M561 429.5h1M617 429.5h1M635 429.5h3M711 429.5h1M827 429.5h1M561 430.5h1M617 430.5h1M711 430.5h1M826 430.5h1M562 431.5h1M616 431.5h1M712 431.5h1M826 431.5h1M562 432.5h1M615 432.5h1M712 432.5h1M825 432.5h1M563 433.5h1M614 433.5h1M713 433.5h1M825 433.5h1M564 434.5h1M613 434.5h1M713 434.5h1M824 434.5h1M564 435.5h1M613 435.5h1M714 435.5h1M824 435.5h1M565 436.5h1M612 436.5h1M714 436.5h1M823 436.5h1M565 437.5h1M611 437.5h1M715 437.5h1M822 437.5h1M566 438.5h1M610 438.5h1M716 438.5h1M822 438.5h1M566 439.5h1M608 439.5h2M716 439.5h1M821 439.5h1M567 440.5h1M607 440.5h1M717 440.5h1M821 440.5h1M567 441.5h1M606 441.5h1M718 441.5h1M770 441.5h2M820 441.5h1M568 442.5h1M604 442.5h2M718 442.5h1M766 442.5h4M772 442.5h1M820 442.5h1M568 443.5h1M603 443.5h1M719 443.5h1M763 443.5h3M773 443.5h1M819 443.5h1M569 444.5h1M602 444.5h1M720 444.5h1M762 444.5h1M774 444.5h2M818 444.5h1M569 445.5h1M602 445.5h1M720 445.5h1M760 445.5h2M776 445.5h1M818 445.5h1M570 446.5h1M601 446.5h1M721 446.5h1M759 446.5h1M777 446.5h1M817 446.5h1M570 447.5h1M601 447.5h1M722 447.5h1M758 447.5h1M778 447.5h1M816 447.5h1M571 448.5h1M600 448.5h1M722 448.5h1M756 448.5h2M779 448.5h2M815 448.5h1M572 449.5h1M599 449.5h1M723 449.5h1M755 449.5h1M781 449.5h2M815 449.5h1M573 450.5h1M599 450.5h1M724 450.5h1M754 450.5h1M783 450.5h2M814 450.5h1M574 451.5h1M598 451.5h1M725 451.5h1M753 451.5h1M785 451.5h2M813 451.5h1M575 452.5h1M598 452.5h1M725 452.5h1M753 452.5h1M787 452.5h2M812 452.5h1M576 453.5h1M597 453.5h1M726 453.5h1M752 453.5h1M789 453.5h3M812 453.5h1M577 454.5h1M597 454.5h1M727 454.5h1M751 454.5h1M792 454.5h2M811 454.5h1M578 455.5h1M595 455.5h2M728 455.5h1M750 455.5h1M794 455.5h2M810 455.5h1M579 456.5h2M593 456.5h2M729 456.5h1M749 456.5h1M796 456.5h1M809 456.5h1M581 457.5h3M591 457.5h2M729 457.5h1M749 457.5h1M797 457.5h1M808 457.5h1M584 458.5h2M589 458.5h2M730 458.5h1M748 458.5h1M798 458.5h2M807 458.5h1M586 459.5h3M731 459.5h1M747 459.5h1M800 459.5h1M806 459.5h1M732 460.5h2M745 460.5h2M801 460.5h1M805 460.5h1M734 461.5h2M744 461.5h1M802 461.5h1M804 461.5h1M736 462.5h1M742 462.5h2M803 462.5h1M737 463.5h2M740 463.5h2M739 464.5h1" fill="none" stroke="#0000cd" stroke-width="1" shape-rendering="crispEdges"/>
</g>
<rect x="835" y="122" width="408" height="5" fill="#fa2222" />
<rect x="835" y="123" width="407" height="3" fill="#f83838" />
<rect x="836" y="309" width="409" height="6" fill="#99cc00" />
<path d="M3 619.5h2M45 619.5h2M1083 619.5h2M5 618.5h1M9 616.5h2M39 616.5h1M856 616.5h1M1078 616.5h2M11 615.5h1M15 615.5h1M33 615.5h3M857 615.5h1M1077 615.5h1M16 614.5h2M21 614.5h3M27 614.5h3M40 617.5h2M855 617.5h1M47 620.5h1M851 620.5h1M1085 620.5h1M51 622.5h2M1089 622.5h2M53 623.5h1M845 623.5h1M1091 623.5h1M57 625.5h2M345 625.5h1M369 625.5h1M1095 625.5h2M59 626.5h1M339 626.5h3M370 626.5h2M531 626.5h3M837 626.5h3M1097 626.5h1M63 629.5h1M201 629.5h1M221 629.5h1M327 629.5h3M519 629.5h3M550 629.5h2M831 629.5h1M1107 629.5h3M64 630.5h2M197 630.5h1M225 630.5h1M323 630.5h1M381 630.5h1M514 630.5h2M555 630.5h1M825 630.5h3M1113 630.5h1M69 633.5h1M189 633.5h3M232 633.5h2M694 633.5h2M729 633.5h1M813 633.5h3M70 634.5h1M317 634.5h1M387 634.5h1M501 634.5h3M561 634.5h1M688 634.5h2M693 634.5h1M730 634.5h2M735 634.5h3M741 634.5h1M801 634.5h3M807 634.5h3M71 635.5h1M183 635.5h3M237 635.5h2M315 635.5h2M388 635.5h2M562 635.5h1M682 635.5h2M687 635.5h1M742 635.5h2M795 635.5h3M75 638.5h1M243 638.5h2M309 638.5h2M393 638.5h2M567 638.5h2M76 639.5h2M173 639.5h1M245 639.5h1M395 639.5h1M491 639.5h1M569 639.5h1M671 639.5h1M81 642.5h2M167 642.5h1M255 642.5h1M303 642.5h2M485 642.5h1M575 642.5h1M663 642.5h3M83 643.5h1M165 643.5h2M256 643.5h2M405 643.5h3M483 643.5h2M658 643.5h2M87 645.5h1M160 645.5h2M262 645.5h2M297 645.5h1M411 645.5h2M477 645.5h3M581 645.5h1M651 645.5h3M88 646.5h1M159 646.5h1M267 646.5h3M291 646.5h3M413 646.5h1M585 646.5h1M646 646.5h2M89 647.5h1M155 647.5h1M273 647.5h1M286 647.5h2M471 647.5h3M586 647.5h2M645 647.5h1M93 649.5h2M419 649.5h1M465 649.5h2M592 649.5h2M634 649.5h2M95 650.5h1M149 650.5h1M423 650.5h3M597 650.5h1M633 650.5h1M99 652.5h3M142 652.5h2M429 652.5h3M459 652.5h2M603 652.5h3M609 652.5h3M615 652.5h3M621 652.5h3M105 653.5h1M141 653.5h1M448 653.5h2M453 653.5h3M106 654.5h2M111 654.5h1M135 654.5h3M435 654.5h3M441 654.5h3M447 654.5h1M112 655.5h2M117 655.5h3M123 655.5h3M129 655.5h3M147 651.5h2M461 651.5h1M598 651.5h2M627 651.5h3M153 648.5h2M274 648.5h2M279 648.5h3M285 648.5h1M417 648.5h2M467 648.5h1M591 648.5h1M639 648.5h3M171 640.5h2M249 640.5h1M399 640.5h1M489 640.5h2M669 640.5h2M177 637.5h2M311 637.5h1M495 637.5h2M675 637.5h3M179 636.5h1M239 636.5h1M497 636.5h1M563 636.5h1M681 636.5h1M747 636.5h3M753 636.5h3M759 636.5h3M765 636.5h3M771 636.5h3M777 636.5h3M783 636.5h3M789 636.5h3M195 631.5h2M226 631.5h2M321 631.5h2M382 631.5h2M513 631.5h1M556 631.5h2M819 631.5h3M1114 631.5h2M202 628.5h2M207 628.5h3M213 628.5h3M219 628.5h2M333 628.5h1M376 628.5h2M525 628.5h1M538 628.5h2M543 628.5h3M549 628.5h1M832 628.5h2M1102 628.5h2M231 632.5h1M507 632.5h3M699 632.5h3M705 632.5h3M711 632.5h3M717 632.5h3M723 632.5h3M250 641.5h2M305 641.5h1M400 641.5h2M573 641.5h2M261 644.5h1M298 644.5h2M579 644.5h2M657 644.5h1M334 627.5h2M375 627.5h1M526 627.5h2M537 627.5h1M1101 627.5h1M346 624.5h2M351 624.5h3M357 624.5h3M363 624.5h3M843 624.5h2M849 621.5h2M861 612.5h1M1072 612.5h2M862 611.5h1M1071 611.5h1M863 610.5h1M867 607.5h1M1066 607.5h1M868 606.5h2M1065 606.5h1M873 603.5h2M875 602.5h1M1061 602.5h1M879 600.5h1M1059 600.5h1M880 599.5h1M881 598.5h1M939 598.5h3M945 598.5h3M951 598.5h3M957 598.5h3M885 596.5h1M933 596.5h1M965 596.5h1M1054 596.5h2M886 595.5h2M927 595.5h3M1053 595.5h1M891 592.5h3M917 592.5h1M975 592.5h1M1049 592.5h1M897 591.5h3M903 591.5h1M915 591.5h2M976 591.5h2M1048 591.5h1M904 590.5h2M909 590.5h3M1047 590.5h1M921 593.5h1M971 593.5h1M922 594.5h2M969 594.5h2M934 597.5h2M963 597.5h2M981 589.5h1M982 588.5h1M1043 588.5h1M983 587.5h1M1041 587.5h2M987 584.5h2M1036 584.5h2M989 583.5h1M1035 583.5h1M993 581.5h2M995 580.5h1M1030 580.5h2M999 579.5h3M1029 579.5h1M1005 578.5h1M1018 578.5h2M1023 578.5h3M1006 577.5h2M1017 577.5h1M1011 576.5h3M1060 601.5h1M1067 608.5h1" fill="none" stroke="#ff0000" stroke-width="1" shape-rendering="crispEdges"/>
<path d="M3 730.5h1M148 730.5h2M170 730.5h3M187 730.5h1M290 730.5h3M317 730.5h1M465 730.5h1M489 730.5h2M494 730.5h4M500 730.5h1M650 730.5h6M664 730.5h4M747 730.5h5M806 730.5h1M886 730.5h1M925 730.5h1M1000 730.5h1M4 731.5h2M147 731.5h1M173 731.5h2M185 731.5h2M188 731.5h1M288 731.5h2M318 731.5h1M464 731.5h1M491 731.5h3M500 731.5h1M648 731.5h2M668 731.5h1M746 731.5h1M752 731.5h5M806 731.5h1M886 731.5h1M925 731.5h1M1000 731.5h1M6 732.5h1M145 732.5h2M175 732.5h2M183 732.5h2M189 732.5h1M259 732.5h2M285 732.5h3M318 732.5h1M450 732.5h3M462 732.5h2M501 732.5h1M645 732.5h3M669 732.5h1M745 732.5h1M757 732.5h3M805 732.5h1M887 732.5h1M924 732.5h1M1001 732.5h1M7 733.5h1M144 733.5h1M177 733.5h2M181 733.5h2M190 733.5h1M258 733.5h1M261 733.5h2M274 733.5h11M319 733.5h1M446 733.5h4M453 733.5h3M461 733.5h1M501 733.5h1M643 733.5h2M670 733.5h2M744 733.5h1M760 733.5h2M805 733.5h1M888 733.5h1M923 733.5h1M1001 733.5h1M8 734.5h2M142 734.5h2M179 734.5h2M191 734.5h1M257 734.5h1M263 734.5h2M272 734.5h2M320 734.5h1M442 734.5h4M456 734.5h2M460 734.5h1M502 734.5h1M641 734.5h2M672 734.5h1M742 734.5h2M762 734.5h2M804 734.5h1M888 734.5h1M922 734.5h1M1002 734.5h1M1083 734.5h11M10 735.5h1M114 735.5h4M140 735.5h2M191 735.5h1M256 735.5h1M265 735.5h2M269 735.5h3M320 735.5h1M339 735.5h1M438 735.5h4M458 735.5h2M502 735.5h1M640 735.5h1M673 735.5h1M741 735.5h1M764 735.5h1M804 735.5h1M889 735.5h1M921 735.5h1M1002 735.5h1M1008 735.5h16M1081 735.5h2M1094 735.5h4M11 736.5h1M110 736.5h4M118 736.5h4M136 736.5h4M192 736.5h1M254 736.5h2M267 736.5h2M321 736.5h1M337 736.5h2M340 736.5h2M435 736.5h3M503 736.5h1M523 736.5h1M638 736.5h2M674 736.5h1M680 736.5h4M740 736.5h1M765 736.5h1M803 736.5h1M889 736.5h1M906 736.5h2M920 736.5h1M1003 736.5h5M1024 736.5h4M1079 736.5h2M1098 736.5h2M12 737.5h2M107 737.5h3M122 737.5h14M193 737.5h1M253 737.5h1M322 737.5h1M335 737.5h2M342 737.5h1M434 737.5h1M504 737.5h1M521 737.5h2M524 737.5h1M579 737.5h3M619 737.5h2M636 737.5h2M675 737.5h5M684 737.5h1M739 737.5h1M766 737.5h2M795 737.5h9M890 737.5h1M902 737.5h4M908 737.5h2M919 737.5h1M1028 737.5h1M1067 737.5h5M1077 737.5h2M1100 737.5h1M14 738.5h1M105 738.5h2M194 738.5h1M252 738.5h1M322 738.5h1M333 738.5h2M343 738.5h1M433 738.5h1M504 738.5h1M519 738.5h2M525 738.5h1M578 738.5h1M582 738.5h4M617 738.5h2M621 738.5h3M634 738.5h2M685 738.5h1M738 738.5h1M768 738.5h1M794 738.5h1M890 738.5h1M896 738.5h6M910 738.5h2M918 738.5h1M1028 738.5h1M1066 738.5h1M1072 738.5h5M1101 738.5h1M15 739.5h1M104 739.5h1M195 739.5h1M251 739.5h1M323 739.5h10M344 739.5h2M432 739.5h1M505 739.5h1M517 739.5h2M526 739.5h2M576 739.5h2M586 739.5h2M615 739.5h2M624 739.5h2M630 739.5h4M686 739.5h1M737 739.5h1M769 739.5h1M794 739.5h1M891 739.5h5M912 739.5h1M917 739.5h1M1029 739.5h1M1066 739.5h1M1101 739.5h1M16 740.5h2M102 740.5h2M196 740.5h2M250 740.5h1M346 740.5h1M431 740.5h1M505 740.5h1M514 740.5h3M528 740.5h1M575 740.5h1M588 740.5h2M603 740.5h5M613 740.5h2M626 740.5h4M687 740.5h1M737 740.5h1M770 740.5h1M793 740.5h1M913 740.5h2M916 740.5h1M1030 740.5h1M1065 740.5h1M1102 740.5h1M18 741.5h1M100 741.5h2M198 741.5h2M248 741.5h2M347 741.5h2M403 741.5h2M431 741.5h1M506 741.5h1M512 741.5h2M529 741.5h1M574 741.5h1M590 741.5h2M601 741.5h2M608 741.5h5M688 741.5h1M736 741.5h1M771 741.5h1M793 741.5h1M915 741.5h1M1031 741.5h1M1064 741.5h1M1103 741.5h1M19 742.5h2M59 742.5h1M98 742.5h2M200 742.5h1M247 742.5h1M349 742.5h3M402 742.5h1M405 742.5h3M430 742.5h1M506 742.5h1M509 742.5h3M530 742.5h1M572 742.5h2M592 742.5h1M599 742.5h2M689 742.5h1M735 742.5h1M772 742.5h1M792 742.5h1M1031 742.5h1M1064 742.5h1M1104 742.5h1M21 743.5h2M58 743.5h1M60 743.5h1M96 743.5h2M201 743.5h2M208 743.5h4M246 743.5h1M352 743.5h2M401 743.5h1M408 743.5h2M429 743.5h1M507 743.5h2M531 743.5h1M571 743.5h1M593 743.5h2M597 743.5h2M690 743.5h1M734 743.5h1M773 743.5h1M792 743.5h1M1032 743.5h1M1063 743.5h1M1105 743.5h1M23 744.5h2M58 744.5h1M61 744.5h1M93 744.5h3M203 744.5h5M211 744.5h1M244 744.5h2M354 744.5h3M400 744.5h1M410 744.5h6M428 744.5h1M532 744.5h1M570 744.5h1M595 744.5h2M691 744.5h2M733 744.5h1M774 744.5h1M791 744.5h1M1033 744.5h1M1062 744.5h1M1105 744.5h1M25 745.5h2M57 745.5h1M62 745.5h1M75 745.5h18M212 745.5h1M243 745.5h1M357 745.5h3M399 745.5h1M416 745.5h12M532 745.5h1M569 745.5h1M693 745.5h3M706 745.5h20M733 745.5h1M775 745.5h1M790 745.5h1M1034 745.5h1M1062 745.5h1M1106 745.5h1M1112 745.5h4M27 746.5h3M56 746.5h1M63 746.5h1M74 746.5h1M212 746.5h1M242 746.5h1M360 746.5h2M399 746.5h1M533 746.5h1M568 746.5h1M696 746.5h2M702 746.5h4M726 746.5h4M732 746.5h1M776 746.5h1M790 746.5h1M1034 746.5h1M1040 746.5h6M1061 746.5h1M1107 746.5h5M30 747.5h4M55 747.5h1M63 747.5h1M72 747.5h2M213 747.5h1M240 747.5h2M362 747.5h4M378 747.5h3M398 747.5h1M534 747.5h1M567 747.5h1M698 747.5h4M730 747.5h2M777 747.5h1M789 747.5h1M1035 747.5h5M1046 747.5h4M1060 747.5h1M34 748.5h10M55 748.5h1M64 748.5h1M71 748.5h1M213 748.5h1M239 748.5h1M366 748.5h4M374 748.5h4M381 748.5h3M397 748.5h1M535 748.5h1M567 748.5h1M778 748.5h1M789 748.5h1M1050 748.5h6M1060 748.5h1M44 749.5h2M54 749.5h1M65 749.5h1M70 749.5h1M214 749.5h1M227 749.5h3M238 749.5h1M370 749.5h4M384 749.5h2M396 749.5h1M535 749.5h1M566 749.5h1M779 749.5h3M788 749.5h1M1056 749.5h4M46 750.5h2M53 750.5h1M66 750.5h1M68 750.5h2M214 750.5h1M226 750.5h1M230 750.5h4M236 750.5h2M386 750.5h10M536 750.5h1M565 750.5h1M782 750.5h4M788 750.5h1M48 751.5h1M52 751.5h1M67 751.5h1M215 751.5h1M225 751.5h1M234 751.5h2M537 751.5h1M555 751.5h5M564 751.5h1M786 751.5h2M49 752.5h2M52 752.5h1M215 752.5h1M225 752.5h1M538 752.5h1M553 752.5h2M560 752.5h4M51 753.5h1M216 753.5h1M224 753.5h1M538 753.5h1M552 753.5h1M150 729.5h1M166 729.5h4M293 729.5h3M316 729.5h1M466 729.5h1M488 729.5h1M498 729.5h2M656 729.5h8M807 729.5h1M885 729.5h1M926 729.5h1M999 729.5h1M151 728.5h1M162 728.5h4M296 728.5h2M316 728.5h1M467 728.5h5M486 728.5h2M807 728.5h1M885 728.5h1M927 728.5h1M999 728.5h1M152 727.5h2M160 727.5h2M298 727.5h2M315 727.5h1M472 727.5h8M484 727.5h2M808 727.5h1M884 727.5h1M928 727.5h1M998 727.5h1M154 726.5h1M157 726.5h3M300 726.5h1M314 726.5h1M480 726.5h4M808 726.5h1M827 726.5h1M884 726.5h1M929 726.5h1M998 726.5h1M155 725.5h2M300 725.5h1M314 725.5h1M809 725.5h1M826 725.5h1M828 725.5h1M882 725.5h2M929 725.5h1M997 725.5h1M216 754.5h1M223 754.5h1M539 754.5h3M550 754.5h2M217 755.5h1M222 755.5h1M542 755.5h4M548 755.5h2M217 756.5h1M221 756.5h1M546 756.5h2M218 757.5h1M221 757.5h1M218 758.5h1M220 758.5h1M219 759.5h1M301 724.5h1M313 724.5h1M809 724.5h1M825 724.5h1M829 724.5h1M880 724.5h2M930 724.5h1M997 724.5h1M302 723.5h1M312 723.5h1M810 723.5h1M824 723.5h1M830 723.5h1M877 723.5h3M931 723.5h1M996 723.5h1M303 722.5h1M311 722.5h1M810 722.5h1M822 722.5h2M831 722.5h1M875 722.5h2M932 722.5h1M996 722.5h1M303 721.5h1M311 721.5h1M811 721.5h1M821 721.5h1M831 721.5h1M874 721.5h1M933 721.5h1M995 721.5h1M304 720.5h1M310 720.5h1M811 720.5h5M820 720.5h1M832 720.5h1M873 720.5h1M934 720.5h1M993 720.5h2M305 719.5h1M309 719.5h1M816 719.5h4M833 719.5h1M872 719.5h1M935 719.5h1M992 719.5h1M306 718.5h1M308 718.5h1M834 718.5h1M871 718.5h1M935 718.5h1M963 718.5h5M990 718.5h2M306 717.5h1M308 717.5h1M835 717.5h1M871 717.5h1M936 717.5h1M962 717.5h1M968 717.5h16M988 717.5h2M307 716.5h1M836 716.5h1M870 716.5h1M937 716.5h1M961 716.5h1M984 716.5h4M837 715.5h1M869 715.5h1M938 715.5h1M960 715.5h1M838 714.5h1M851 714.5h13M868 714.5h1M939 714.5h3M958 714.5h2M839 713.5h1M849 713.5h2M864 713.5h4M942 713.5h4M957 713.5h1M840 712.5h1M848 712.5h1M946 712.5h6M956 712.5h1M841 711.5h1M846 711.5h2M952 711.5h4M842 710.5h1M844 710.5h2M843 709.5h1" fill="none" stroke="#1e90ff" stroke-width="1" shape-rendering="crispEdges"/>
<text x="1423.9" y="33.7" font-size="9.6" fill="#000" textLength="33.2" lengthAdjust="spacingAndGlyphs" stroke="#000" stroke-width="0.25"  xml:space="preserve">1.14735</text>
<text x="1423.9" y="66.7" font-size="9.6" fill="#000" textLength="33.2" lengthAdjust="spacingAndGlyphs" stroke="#000" stroke-width="0.25"  xml:space="preserve">1.14500</text>
<text x="1423.9" y="99.7" font-size="9.6" fill="#000" textLength="33.2" lengthAdjust="spacingAndGlyphs" stroke="#000" stroke-width="0.25"  xml:space="preserve">1.14265</text>
<text x="1423.9" y="132.7" font-size="9.6" fill="#000" textLength="33.2" lengthAdjust="spacingAndGlyphs" stroke="#000" stroke-width="0.25"  xml:space="preserve">1.14030</text>
<text x="1423.9" y="165.7" font-size="9.6" fill="#000" textLength="33.2" lengthAdjust="spacingAndGlyphs" stroke="#000" stroke-width="0.25"  xml:space="preserve">1.13800</text>
<text x="1423.9" y="198.7" font-size="9.6" fill="#000" textLength="33.2" lengthAdjust="spacingAndGlyphs" stroke="#000" stroke-width="0.25"  xml:space="preserve">1.13565</text>
<text x="1423.9" y="231.7" font-size="9.6" fill="#000" textLength="33.2" lengthAdjust="spacingAndGlyphs" stroke="#000" stroke-width="0.25"  xml:space="preserve">1.13330</text>
<text x="1423.9" y="264.7" font-size="9.6" fill="#000" textLength="33.2" lengthAdjust="spacingAndGlyphs" stroke="#000" stroke-width="0.25"  xml:space="preserve">1.13100</text>
<text x="1423.9" y="297.7" font-size="9.6" fill="#000" textLength="33.2" lengthAdjust="spacingAndGlyphs" stroke="#000" stroke-width="0.25"  xml:space="preserve">1.12865</text>
<text x="1423.9" y="330.7" font-size="9.6" fill="#000" textLength="33.2" lengthAdjust="spacingAndGlyphs" stroke="#000" stroke-width="0.25"  xml:space="preserve">1.12630</text>
<text x="1423.9" y="363.7" font-size="9.6" fill="#000" textLength="33.2" lengthAdjust="spacingAndGlyphs" stroke="#000" stroke-width="0.25"  xml:space="preserve">1.12400</text>
<text x="1423.9" y="396.7" font-size="9.6" fill="#000" textLength="33.2" lengthAdjust="spacingAndGlyphs" stroke="#000" stroke-width="0.25"  xml:space="preserve">1.12165</text>
<text x="1423.9" y="429.7" font-size="9.6" fill="#000" textLength="33.2" lengthAdjust="spacingAndGlyphs" stroke="#000" stroke-width="0.25"  xml:space="preserve">1.11930</text>
<text x="1423.9" y="462.7" font-size="9.6" fill="#000" textLength="33.2" lengthAdjust="spacingAndGlyphs" stroke="#000" stroke-width="0.25"  xml:space="preserve">1.11695</text>
<text x="1423.9" y="495.7" font-size="9.6" fill="#000" textLength="33.2" lengthAdjust="spacingAndGlyphs" stroke="#000" stroke-width="0.25"  xml:space="preserve">1.11465</text>
<text x="1423.9" y="528.7" font-size="9.6" fill="#000" textLength="33.2" lengthAdjust="spacingAndGlyphs" stroke="#000" stroke-width="0.25"  xml:space="preserve">1.11230</text>
<text x="1423.9" y="561.7" font-size="9.6" fill="#000" textLength="33.2" lengthAdjust="spacingAndGlyphs" stroke="#000" stroke-width="0.25"  xml:space="preserve">1.10995</text>
<rect x="1420" y="392" width="39" height="11" fill="#000" shape-rendering="crispEdges"/>
<text x="1423.9" y="401" font-size="9.6" fill="#fff" textLength="33.2" lengthAdjust="spacingAndGlyphs" stroke="#fff" stroke-width="0.25"  xml:space="preserve">1.12137</text>
<text x="1422" y="573.8" font-size="9.6" fill="#000" textLength="38" lengthAdjust="spacingAndGlyphs" stroke="#000" stroke-width="0.25"  xml:space="preserve">0.004465</text>
<text x="1422" y="624" font-size="9.6" fill="#000" textLength="17.8" lengthAdjust="spacingAndGlyphs" stroke="#000" stroke-width="0.25"  xml:space="preserve">0.00</text>
<text x="1422" y="662.8" font-size="9.6" fill="#000" textLength="41" lengthAdjust="spacingAndGlyphs" stroke="#000" stroke-width="0.25"  xml:space="preserve">-0.003715</text>
<text x="1422" y="678.8" font-size="9.6" fill="#000" textLength="15.3" lengthAdjust="spacingAndGlyphs" stroke="#000" stroke-width="0.25"  xml:space="preserve">100</text>
<text x="1421.3" y="711.8" font-size="9.6" fill="#000" textLength="10.2" lengthAdjust="spacingAndGlyphs" stroke="#000" stroke-width="0.25"  xml:space="preserve">70</text>
<text x="1421.3" y="762.6" font-size="9.6" fill="#000" textLength="10.2" lengthAdjust="spacingAndGlyphs" stroke="#000" stroke-width="0.25"  xml:space="preserve">30</text>
<text x="1422" y="794.6" font-size="9.6" fill="#000" stroke="#000" stroke-width="0.25"  xml:space="preserve">0</text>
<polygon points="6,33 13,33 9.5,29" fill="#000"/>
<text x="17.6" y="33.6" font-size="9.6" fill="#000" textLength="67.4" lengthAdjust="spacingAndGlyphs" stroke="#000" stroke-width="0.25"  xml:space="preserve">EURUSD-,Daily</text>
<text x="91.0" y="33.6" font-size="9.6" fill="#000" textLength="32.6" lengthAdjust="spacingAndGlyphs" stroke="#000" stroke-width="0.25"  xml:space="preserve">1.12109</text>
<text x="126.8" y="33.6" font-size="9.6" fill="#000" textLength="32.6" lengthAdjust="spacingAndGlyphs" stroke="#000" stroke-width="0.25"  xml:space="preserve">1.12144</text>
<text x="162.7" y="33.6" font-size="9.6" fill="#000" textLength="32.6" lengthAdjust="spacingAndGlyphs" stroke="#000" stroke-width="0.25"  xml:space="preserve">1.12061</text>
<text x="198.6" y="33.6" font-size="9.6" fill="#000" textLength="32.6" lengthAdjust="spacingAndGlyphs" stroke="#000" stroke-width="0.25"  xml:space="preserve">1.12137</text>
<text x="6.6" y="576" font-size="9.6" fill="#000" textLength="65.6" lengthAdjust="spacingAndGlyphs" stroke="#000" stroke-width="0.25"  xml:space="preserve">MACD(12,26,9)</text>
<text x="76.8" y="576" font-size="9.6" fill="#000" textLength="39.6" lengthAdjust="spacingAndGlyphs" stroke="#000" stroke-width="0.25"  xml:space="preserve">-0.001346</text>
<text x="119.8" y="576" font-size="9.6" fill="#000" textLength="41.4" lengthAdjust="spacingAndGlyphs" stroke="#000" stroke-width="0.25"  xml:space="preserve">-0.000896</text>
<text x="6.6" y="681" font-size="9.6" fill="#000" textLength="32.4" lengthAdjust="spacingAndGlyphs" stroke="#000" stroke-width="0.25"  xml:space="preserve">RSI(14)</text>
<text x="41.8" y="681" font-size="9.6" fill="#000" textLength="33.4" lengthAdjust="spacingAndGlyphs" stroke="#000" stroke-width="0.25"  xml:space="preserve">41.1349</text>
<rect x="3" y="799" width="1" height="3" fill="#000" shape-rendering="crispEdges"/>
<text x="2.1" y="811" font-size="9.6" fill="#000" textLength="47.5" lengthAdjust="spacingAndGlyphs" stroke="#000" stroke-width="0.25"  xml:space="preserve">4 Feb 2019</text>
<rect x="67" y="799" width="1" height="3" fill="#000" shape-rendering="crispEdges"/>
<text x="65.5" y="811" font-size="9.6" fill="#000" textLength="52.4" lengthAdjust="spacingAndGlyphs" stroke="#000" stroke-width="0.25"  xml:space="preserve">13 Feb 2019</text>
<rect x="131" y="799" width="1" height="3" fill="#000" shape-rendering="crispEdges"/>
<text x="130.1" y="811" font-size="9.6" fill="#000" textLength="52.0" lengthAdjust="spacingAndGlyphs" stroke="#000" stroke-width="0.25"  xml:space="preserve">22 Feb 2019</text>
<rect x="195" y="799" width="1" height="3" fill="#000" shape-rendering="crispEdges"/>
<text x="194.1" y="811" font-size="9.6" fill="#000" textLength="46.8" lengthAdjust="spacingAndGlyphs" stroke="#000" stroke-width="0.25"  xml:space="preserve">4 Mar 2019</text>
<rect x="259" y="799" width="1" height="3" fill="#000" shape-rendering="crispEdges"/>
<text x="257.5" y="811" font-size="9.6" fill="#000" textLength="52.6" lengthAdjust="spacingAndGlyphs" stroke="#000" stroke-width="0.25"  xml:space="preserve">13 Mar 2019</text>
<rect x="323" y="799" width="1" height="3" fill="#000" shape-rendering="crispEdges"/>
<text x="322.1" y="811" font-size="9.6" fill="#000" textLength="52.0" lengthAdjust="spacingAndGlyphs" stroke="#000" stroke-width="0.25"  xml:space="preserve">22 Mar 2019</text>
<rect x="387" y="799" width="1" height="3" fill="#000" shape-rendering="crispEdges"/>
<text x="385.5" y="811" font-size="9.6" fill="#000" textLength="46.4" lengthAdjust="spacingAndGlyphs" stroke="#000" stroke-width="0.25"  xml:space="preserve">1 Apr 2019</text>
<rect x="451" y="799" width="1" height="3" fill="#000" shape-rendering="crispEdges"/>
<text x="449.5" y="811" font-size="9.6" fill="#000" textLength="51.4" lengthAdjust="spacingAndGlyphs" stroke="#000" stroke-width="0.25"  xml:space="preserve">10 Apr 2019</text>
<rect x="515" y="799" width="1" height="3" fill="#000" shape-rendering="crispEdges"/>
<text x="514.1" y="811" font-size="9.6" fill="#000" textLength="50.8" lengthAdjust="spacingAndGlyphs" stroke="#000" stroke-width="0.25"  xml:space="preserve">21 Apr 2019</text>
<rect x="579" y="799" width="1" height="3" fill="#000" shape-rendering="crispEdges"/>
<text x="578.1" y="811" font-size="9.6" fill="#000" textLength="50.8" lengthAdjust="spacingAndGlyphs" stroke="#000" stroke-width="0.25"  xml:space="preserve">30 Apr 2019</text>
<rect x="643" y="799" width="1" height="3" fill="#000" shape-rendering="crispEdges"/>
<text x="642.1" y="811" font-size="9.6" fill="#000" textLength="50.0" lengthAdjust="spacingAndGlyphs" stroke="#000" stroke-width="0.25"  xml:space="preserve">9 May 2019</text>
<rect x="707" y="799" width="1" height="3" fill="#000" shape-rendering="crispEdges"/>
<text x="705.5" y="811" font-size="9.6" fill="#000" textLength="55.4" lengthAdjust="spacingAndGlyphs" stroke="#000" stroke-width="0.25"  xml:space="preserve">19 May 2019</text>
<rect x="771" y="799" width="1" height="3" fill="#000" shape-rendering="crispEdges"/>
<text x="770.1" y="811" font-size="9.6" fill="#000" textLength="54.8" lengthAdjust="spacingAndGlyphs" stroke="#000" stroke-width="0.25"  xml:space="preserve">28 May 2019</text>
<rect x="835" y="799" width="1" height="3" fill="#000" shape-rendering="crispEdges"/>
<text x="834.1" y="811" font-size="9.6" fill="#000" textLength="45.0" lengthAdjust="spacingAndGlyphs" stroke="#000" stroke-width="0.25"  xml:space="preserve">6 Jun 2019</text>
<rect x="899" y="799" width="1" height="3" fill="#000" shape-rendering="crispEdges"/>
<text x="897.5" y="811" font-size="9.6" fill="#000" textLength="50.1" lengthAdjust="spacingAndGlyphs" stroke="#000" stroke-width="0.25"  xml:space="preserve">16 Jun 2019</text>
<rect x="963" y="799" width="1" height="3" fill="#000" shape-rendering="crispEdges"/>
<text x="962.1" y="811" font-size="9.6" fill="#000" textLength="51.3" lengthAdjust="spacingAndGlyphs" stroke="#000" stroke-width="0.25"  xml:space="preserve">25 Jun 2019</text>
<rect x="1027" y="799" width="1" height="3" fill="#000" shape-rendering="crispEdges"/>
<text x="1026.1" y="811" font-size="9.6" fill="#000" textLength="42.8" lengthAdjust="spacingAndGlyphs" stroke="#000" stroke-width="0.25"  xml:space="preserve">4 Jul 2019</text>
<rect x="1091" y="799" width="1" height="3" fill="#000" shape-rendering="crispEdges"/>
<text x="1089.5" y="811" font-size="9.6" fill="#000" textLength="48.4" lengthAdjust="spacingAndGlyphs" stroke="#000" stroke-width="0.25"  xml:space="preserve">14 Jul 2019</text>
<g shape-rendering="crispEdges">
<rect x="6" y="42" width="52" height="25" fill="#b80808" />
<rect x="7" y="43" width="50" height="24" fill="url(#gsell)" />
<rect x="173" y="42" width="52" height="25" fill="#b80808" />
<rect x="174" y="43" width="50" height="24" fill="url(#gsell)" />
<rect x="6" y="66" width="109" height="40" fill="#b00000" />
<rect x="7" y="67" width="107" height="38" fill="url(#gprice)" />
<rect x="117" y="66" width="108" height="40" fill="#b00000" />
<rect x="118" y="67" width="106" height="38" fill="url(#gprice)" />
<rect x="7" y="66" width="50" height="1" fill="#e03232" />
<rect x="174" y="66" width="50" height="1" fill="#e03232" />
<rect x="10" y="65" width="44" height="1" fill="#7a0000" />
<rect x="10" y="66" width="44" height="1" fill="#f46a6a" />
<rect x="177" y="65" width="44" height="1" fill="#7a0000" />
<rect x="177" y="66" width="44" height="1" fill="#f46a6a" />
<rect x="60" y="42" width="111" height="22" fill="#a6a8b0" />
<rect x="61" y="43" width="109" height="20" fill="#ffffff" />
<rect x="61" y="43" width="20" height="20" fill="url(#gbtn)" />
<rect x="81" y="43" width="1" height="20" fill="#a6a8b0" />
<rect x="149" y="43" width="1" height="20" fill="#a6a8b0" />
<rect x="150" y="43" width="20" height="20" fill="url(#gbtn)" />
</g>
<polygon points="67.5,51 73,51 70.25,54" fill="#5568c4"/>
<polygon points="156.5,54 162,54 159.25,51" fill="#5568c4"/>
<text x="18.2" y="57.9" font-size="11.5" fill="#fff4ee" textLength="26.2" lengthAdjust="spacingAndGlyphs"  xml:space="preserve">SELL</text>
<text x="185.7" y="57.9" font-size="11.5" fill="#fff4ee" textLength="24.6" lengthAdjust="spacingAndGlyphs"  xml:space="preserve">BUY</text>
<text x="122" y="57" font-size="12.3" fill="#000" textLength="24" lengthAdjust="spacingAndGlyphs"  xml:space="preserve">1.00</text>
<text x="26" y="96.8" font-size="11" fill="#fff" textLength="24" lengthAdjust="spacingAndGlyphs" font-weight="bold"  xml:space="preserve">1.12</text>
<text x="53.2" y="97" font-size="33" fill="#fff" textLength="34.6" lengthAdjust="spacingAndGlyphs"  xml:space="preserve">13</text>
<text x="93" y="80.6" font-size="11.5" fill="#fff" font-weight="bold"  xml:space="preserve">7</text>
<text x="136" y="96.8" font-size="11" fill="#fff" textLength="24" lengthAdjust="spacingAndGlyphs" font-weight="bold"  xml:space="preserve">1.12</text>
<text x="163.9" y="97" font-size="33" fill="#fff" textLength="34.4" lengthAdjust="spacingAndGlyphs"  xml:space="preserve">15</text>
<text x="204.2" y="80.6" font-size="11.5" fill="#fff" font-weight="bold"  xml:space="preserve">5</text>
<g shape-rendering="crispEdges">
<rect x="0" y="819" width="1459" height="1" fill="#e3e3e3" />
<rect x="0" y="820" width="1459" height="1" fill="#ffffff" />
<rect x="0" y="821" width="1459" height="1" fill="#000000" />
<rect x="0" y="822" width="1459" height="1" fill="#ffffff" />
<rect x="0" y="823" width="1459" height="18" fill="#f0f0f0" />
<rect x="0" y="841" width="1459" height="1" fill="#ffffff" />
<rect x="0" y="842" width="1459" height="3" fill="#f2f2f2" />
<rect x="4" y="821" width="108" height="19" fill="#000" />
<rect x="5" y="820" width="106" height="19" fill="#fff" />
<rect x="112" y="823" width="1" height="18" fill="#c4c4c4" />
<rect x="6" y="840" width="107" height="1" fill="#c4c4c4" />
<rect x="220" y="825" width="1" height="13" fill="#8c8c8c" />
<rect x="328" y="825" width="1" height="13" fill="#8c8c8c" />
<rect x="436" y="825" width="1" height="13" fill="#8c8c8c" />
<rect x="548" y="825" width="1" height="13" fill="#8c8c8c" />
<rect x="668" y="825" width="1" height="13" fill="#8c8c8c" />
<rect x="776" y="825" width="1" height="13" fill="#8c8c8c" />
<rect x="872" y="825" width="1" height="13" fill="#8c8c8c" />
<rect x="952" y="825" width="1" height="13" fill="#8c8c8c" />
</g>
<text x="15.0" y="836" font-size="12" fill="#000" textLength="85.2" lengthAdjust="spacingAndGlyphs" stroke="#000" stroke-width="0.2" xml:space="preserve">EURUSD-,Daily</text>
<text x="121.4" y="836" font-size="12" fill="#7c7c7c" textLength="88" lengthAdjust="spacingAndGlyphs"  xml:space="preserve">AUDUSD-,Daily</text>
<text x="231.4" y="836" font-size="12" fill="#7c7c7c" textLength="84.5" lengthAdjust="spacingAndGlyphs"  xml:space="preserve">USDCHF-,Daily</text>
<text x="338.9" y="836" font-size="12" fill="#7c7c7c" textLength="85.5" lengthAdjust="spacingAndGlyphs"  xml:space="preserve">USDCAD-,Daily</text>
<text x="447.4" y="836" font-size="12" fill="#7c7c7c" textLength="88" lengthAdjust="spacingAndGlyphs"  xml:space="preserve">USDCNH-,Daily</text>
<text x="558.4" y="836" font-size="12" fill="#7c7c7c" textLength="97" lengthAdjust="spacingAndGlyphs"  xml:space="preserve">EURCHF-,Weekly</text>
<text x="679.4" y="836" font-size="12" fill="#7c7c7c" textLength="84" lengthAdjust="spacingAndGlyphs"  xml:space="preserve">XAUUSD-,M15</text>
<text x="786.9" y="836" font-size="12" fill="#7c7c7c" textLength="72.5" lengthAdjust="spacingAndGlyphs"  xml:space="preserve">GBPUSD-,H1</text>
<text x="882.4" y="836" font-size="12" fill="#7c7c7c" textLength="57" lengthAdjust="spacingAndGlyphs"  xml:space="preserve">UKOil-,H1</text>
<polygon points="1433.8,830 1437.3,826.6 1437.3,833.4" fill="#969696"/>
<polygon points="1456.3,830 1452.8,826.6 1452.8,833.4" fill="#969696"/>
</svg>
</body></html>
